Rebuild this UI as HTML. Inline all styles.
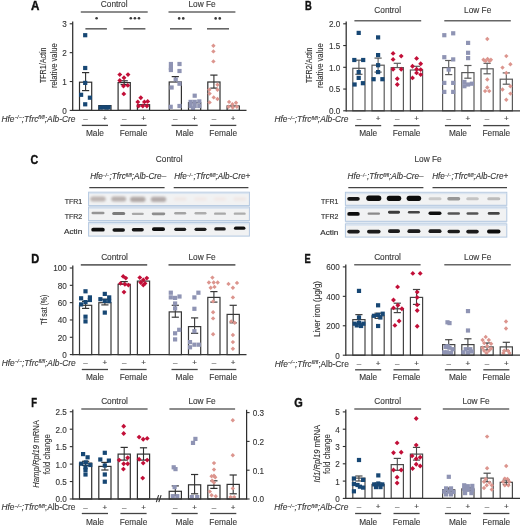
<!DOCTYPE html>
<html><head><meta charset="utf-8"><style>
html,body{margin:0;padding:0;background:#fff;width:520px;height:526px;overflow:hidden}
svg{display:block;font-family:"Liberation Sans", sans-serif;filter:blur(0.3px)}
text{stroke:#333;stroke-width:0.12px}
</style></head><body>
<svg width="520" height="526" viewBox="0 0 520 526">
<defs>
<filter id="b1" x="-50%" y="-100%" width="200%" height="300%"><feGaussianBlur stdDeviation="0.7"/></filter>
<filter id="b2" x="-50%" y="-100%" width="200%" height="300%"><feGaussianBlur stdDeviation="1.0"/></filter>
</defs>
<rect width="520" height="526" fill="#fff"/>
<text x="31.00" y="10.00" font-size="12.2" font-weight="bold" fill="#111" style="stroke:#111;stroke-width:0.4px" textLength="8.40" lengthAdjust="spacingAndGlyphs">A</text>
<line x1="72.70" y1="21.40" x2="72.70" y2="111.00" stroke="#2e2e2e" stroke-width="1.25"/>
<line x1="69.70" y1="110.40" x2="72.70" y2="110.40" stroke="#2e2e2e" stroke-width="1.1"/>
<text x="66.80" y="113.80" font-size="9.6" text-anchor="end" font-weight="normal" font-style="normal" fill="#333" textLength="4.54" lengthAdjust="spacingAndGlyphs">0</text>
<line x1="69.70" y1="81.53" x2="72.70" y2="81.53" stroke="#2e2e2e" stroke-width="1.1"/>
<text x="66.80" y="84.93" font-size="9.6" text-anchor="end" font-weight="normal" font-style="normal" fill="#333" textLength="4.54" lengthAdjust="spacingAndGlyphs">1</text>
<line x1="69.70" y1="52.66" x2="72.70" y2="52.66" stroke="#2e2e2e" stroke-width="1.1"/>
<text x="66.80" y="56.06" font-size="9.6" text-anchor="end" font-weight="normal" font-style="normal" fill="#333" textLength="4.54" lengthAdjust="spacingAndGlyphs">2</text>
<line x1="69.70" y1="23.79" x2="72.70" y2="23.79" stroke="#2e2e2e" stroke-width="1.1"/>
<text x="66.80" y="27.19" font-size="9.6" text-anchor="end" font-weight="normal" font-style="normal" fill="#333" textLength="4.54" lengthAdjust="spacingAndGlyphs">3</text>
<text transform="translate(45.50,65.30) rotate(-90)" x="0" y="0" font-size="8.8" text-anchor="middle" fill="#333" textLength="35.6" lengthAdjust="spacingAndGlyphs">TFR1/Actin</text>
<text transform="translate(56.90,65.70) rotate(-90)" x="0" y="0" font-size="8.8" text-anchor="middle" fill="#333" textLength="44.8" lengthAdjust="spacingAndGlyphs">relative value</text>
<line x1="80.80" y1="12.00" x2="147.70" y2="12.00" stroke="#666" stroke-width="1.6"/>
<text x="114.20" y="7.30" font-size="8.3" text-anchor="middle" font-weight="normal" font-style="normal" fill="#3a3a3a">Control</text>
<line x1="168.50" y1="12.00" x2="235.40" y2="12.00" stroke="#666" stroke-width="1.6"/>
<text x="202.10" y="7.30" font-size="8.3" text-anchor="middle" font-weight="normal" font-style="normal" fill="#3a3a3a">Low Fe</text>
<rect x="79.50" y="82.20" width="12.2" height="28.20" fill="white" stroke="#303030" stroke-width="1.2"/>
<line x1="85.60" y1="72.60" x2="85.60" y2="90.60" stroke="#303030" stroke-width="1.1"/>
<line x1="82.00" y1="72.60" x2="89.20" y2="72.60" stroke="#303030" stroke-width="1.2"/>
<line x1="82.00" y1="90.60" x2="89.20" y2="90.60" stroke="#303030" stroke-width="1.2"/>
<rect x="83.10" y="33.10" width="4.2" height="4.2" fill="#174774"/>
<rect x="83.10" y="65.90" width="4.2" height="4.2" fill="#174774"/>
<rect x="83.10" y="80.80" width="4.2" height="4.2" fill="#174774"/>
<rect x="79.00" y="92.70" width="4.2" height="4.2" fill="#174774"/>
<rect x="87.80" y="95.60" width="4.2" height="4.2" fill="#174774"/>
<rect x="83.10" y="102.20" width="4.2" height="4.2" fill="#174774"/>
<rect x="98.80" y="105.60" width="12.2" height="4.80" fill="white" stroke="#303030" stroke-width="1.2"/>
<rect x="98.50" y="105.50" width="4.2" height="4.2" fill="#174774"/>
<rect x="101.50" y="105.20" width="4.2" height="4.2" fill="#174774"/>
<rect x="104.50" y="105.50" width="4.2" height="4.2" fill="#174774"/>
<rect x="106.50" y="105.20" width="4.2" height="4.2" fill="#174774"/>
<rect x="118.10" y="82.60" width="12.2" height="27.80" fill="white" stroke="#303030" stroke-width="1.2"/>
<line x1="124.20" y1="80.80" x2="124.20" y2="84.60" stroke="#303030" stroke-width="1.1"/>
<line x1="120.60" y1="80.80" x2="127.80" y2="80.80" stroke="#303030" stroke-width="1.2"/>
<line x1="120.60" y1="84.60" x2="127.80" y2="84.60" stroke="#303030" stroke-width="1.2"/>
<path d="M119.80 72.15L122.25 74.60L119.80 77.05L117.35 74.60Z" fill="#c20f38"/>
<path d="M128.00 72.15L130.45 74.60L128.00 77.05L125.55 74.60Z" fill="#c20f38"/>
<path d="M124.00 75.25L126.45 77.70L124.00 80.15L121.55 77.70Z" fill="#c20f38"/>
<path d="M119.80 78.05L122.25 80.50L119.80 82.95L117.35 80.50Z" fill="#c20f38"/>
<path d="M123.50 83.55L125.95 86.00L123.50 88.45L121.05 86.00Z" fill="#c20f38"/>
<path d="M127.80 82.95L130.25 85.40L127.80 87.85L125.35 85.40Z" fill="#c20f38"/>
<path d="M123.80 91.45L126.25 93.90L123.80 96.35L121.35 93.90Z" fill="#c20f38"/>
<rect x="137.40" y="104.70" width="12.2" height="5.70" fill="white" stroke="#303030" stroke-width="1.2"/>
<path d="M140.80 95.25L143.25 97.70L140.80 100.15L138.35 97.70Z" fill="#c20f38"/>
<path d="M137.80 99.45L140.25 101.90L137.80 104.35L135.35 101.90Z" fill="#c20f38"/>
<path d="M144.40 99.45L146.85 101.90L144.40 104.35L141.95 101.90Z" fill="#c20f38"/>
<path d="M147.70 98.95L150.15 101.40L147.70 103.85L145.25 101.40Z" fill="#c20f38"/>
<path d="M138.60 103.55L141.05 106.00L138.60 108.45L136.15 106.00Z" fill="#c20f38"/>
<path d="M142.80 103.55L145.25 106.00L142.80 108.45L140.35 106.00Z" fill="#c20f38"/>
<path d="M146.90 103.55L149.35 106.00L146.90 108.45L144.45 106.00Z" fill="#c20f38"/>
<rect x="169.20" y="82.00" width="12.2" height="28.40" fill="white" stroke="#303030" stroke-width="1.2"/>
<line x1="175.30" y1="76.60" x2="175.30" y2="82.00" stroke="#303030" stroke-width="1.1"/>
<line x1="171.70" y1="76.60" x2="178.90" y2="76.60" stroke="#303030" stroke-width="1.2"/>
<rect x="168.80" y="61.90" width="4.2" height="4.2" fill="#8f94b4"/>
<rect x="168.80" y="65.90" width="4.2" height="4.2" fill="#8f94b4"/>
<rect x="168.80" y="67.90" width="4.2" height="4.2" fill="#8f94b4"/>
<rect x="177.40" y="61.90" width="4.2" height="4.2" fill="#8f94b4"/>
<rect x="177.40" y="68.90" width="4.2" height="4.2" fill="#8f94b4"/>
<rect x="173.60" y="77.40" width="4.2" height="4.2" fill="#8f94b4"/>
<rect x="169.50" y="85.40" width="4.2" height="4.2" fill="#8f94b4"/>
<rect x="177.40" y="81.60" width="4.2" height="4.2" fill="#8f94b4"/>
<rect x="168.60" y="104.70" width="4.2" height="4.2" fill="#8f94b4"/>
<rect x="177.40" y="103.90" width="4.2" height="4.2" fill="#8f94b4"/>
<rect x="188.50" y="102.70" width="12.2" height="7.70" fill="white" stroke="#303030" stroke-width="1.2"/>
<rect x="192.60" y="93.60" width="4.2" height="4.2" fill="#8f94b4"/>
<rect x="188.50" y="99.80" width="4.2" height="4.2" fill="#8f94b4"/>
<rect x="192.60" y="99.80" width="4.2" height="4.2" fill="#8f94b4"/>
<rect x="197.20" y="99.30" width="4.2" height="4.2" fill="#8f94b4"/>
<rect x="188.50" y="103.90" width="4.2" height="4.2" fill="#8f94b4"/>
<rect x="192.60" y="103.90" width="4.2" height="4.2" fill="#8f94b4"/>
<rect x="197.20" y="103.90" width="4.2" height="4.2" fill="#8f94b4"/>
<rect x="190.90" y="106.20" width="4.2" height="4.2" fill="#8f94b4"/>
<rect x="207.80" y="82.00" width="12.2" height="28.40" fill="white" stroke="#303030" stroke-width="1.2"/>
<line x1="213.90" y1="75.10" x2="213.90" y2="88.10" stroke="#303030" stroke-width="1.1"/>
<line x1="210.30" y1="75.10" x2="217.50" y2="75.10" stroke="#303030" stroke-width="1.2"/>
<line x1="210.30" y1="88.10" x2="217.50" y2="88.10" stroke="#303030" stroke-width="1.2"/>
<path d="M213.40 43.50L215.60 45.70L213.40 47.90L211.20 45.70Z" fill="#dc958e"/>
<path d="M213.40 49.20L215.60 51.40L213.40 53.60L211.20 51.40Z" fill="#dc958e"/>
<path d="M213.40 59.20L215.60 61.40L213.40 63.60L211.20 61.40Z" fill="#dc958e"/>
<path d="M217.50 82.60L219.70 84.80L217.50 87.00L215.30 84.80Z" fill="#dc958e"/>
<path d="M209.30 87.60L211.50 89.80L209.30 92.00L207.10 89.80Z" fill="#dc958e"/>
<path d="M217.50 87.60L219.70 89.80L217.50 92.00L215.30 89.80Z" fill="#dc958e"/>
<path d="M209.60 91.40L211.80 93.60L209.60 95.80L207.40 93.60Z" fill="#dc958e"/>
<path d="M213.70 95.20L215.90 97.40L213.70 99.60L211.50 97.40Z" fill="#dc958e"/>
<path d="M217.50 96.80L219.70 99.00L217.50 101.20L215.30 99.00Z" fill="#dc958e"/>
<path d="M209.60 100.20L211.80 102.40L209.60 104.60L207.40 102.40Z" fill="#dc958e"/>
<rect x="227.10" y="106.00" width="12.2" height="4.40" fill="white" stroke="#303030" stroke-width="1.2"/>
<path d="M229.10 99.70L231.30 101.90L229.10 104.10L226.90 101.90Z" fill="#dc958e"/>
<path d="M236.00 100.50L238.20 102.70L236.00 104.90L233.80 102.70Z" fill="#dc958e"/>
<path d="M232.40 102.10L234.60 104.30L232.40 106.50L230.20 104.30Z" fill="#dc958e"/>
<path d="M228.60 104.60L230.80 106.80L228.60 109.00L226.40 106.80Z" fill="#dc958e"/>
<path d="M232.70 105.40L234.90 107.60L232.70 109.80L230.50 107.60Z" fill="#dc958e"/>
<path d="M236.90 104.60L239.10 106.80L236.90 109.00L234.70 106.80Z" fill="#dc958e"/>
<line x1="72.70" y1="110.40" x2="246.50" y2="110.40" stroke="#333" stroke-width="1.3"/>
<text x="75.40" y="121.80" font-size="8.3" font-style="italic" text-anchor="end" fill="#3a3a3a" textLength="74" lengthAdjust="spacingAndGlyphs">Hfe<tspan font-size="4.98" dy="-2.4">−/−</tspan><tspan dy="2.4">;Tfrc</tspan><tspan font-size="4.98" dy="-2.4">fl/fl</tspan><tspan dy="2.4">;Alb-Cre</tspan></text>
<text x="85.60" y="120.90" font-size="8" text-anchor="middle" font-weight="normal" font-style="normal" fill="#444">–</text>
<text x="104.90" y="120.90" font-size="8" text-anchor="middle" font-weight="normal" font-style="normal" fill="#444">+</text>
<text x="124.20" y="120.90" font-size="8" text-anchor="middle" font-weight="normal" font-style="normal" fill="#444">–</text>
<text x="143.50" y="120.90" font-size="8" text-anchor="middle" font-weight="normal" font-style="normal" fill="#444">+</text>
<text x="175.30" y="120.90" font-size="8" text-anchor="middle" font-weight="normal" font-style="normal" fill="#444">–</text>
<text x="194.60" y="120.90" font-size="8" text-anchor="middle" font-weight="normal" font-style="normal" fill="#444">+</text>
<text x="213.90" y="120.90" font-size="8" text-anchor="middle" font-weight="normal" font-style="normal" fill="#444">–</text>
<text x="233.20" y="120.90" font-size="8" text-anchor="middle" font-weight="normal" font-style="normal" fill="#444">+</text>
<line x1="81.80" y1="125.40" x2="108.00" y2="125.40" stroke="#444" stroke-width="1.3"/>
<text x="94.90" y="135.90" font-size="8.3" text-anchor="middle" font-weight="normal" font-style="normal" fill="#3a3a3a">Male</text>
<line x1="120.40" y1="125.40" x2="146.60" y2="125.40" stroke="#444" stroke-width="1.3"/>
<text x="133.50" y="135.90" font-size="8.3" text-anchor="middle" font-weight="normal" font-style="normal" fill="#3a3a3a">Female</text>
<line x1="171.50" y1="125.40" x2="197.70" y2="125.40" stroke="#444" stroke-width="1.3"/>
<text x="184.60" y="135.90" font-size="8.3" text-anchor="middle" font-weight="normal" font-style="normal" fill="#3a3a3a">Male</text>
<line x1="210.10" y1="125.40" x2="236.30" y2="125.40" stroke="#444" stroke-width="1.3"/>
<text x="223.20" y="135.90" font-size="8.3" text-anchor="middle" font-weight="normal" font-style="normal" fill="#3a3a3a">Female</text>
<circle cx="96.60" cy="18.30" r="1.3" fill="#3a3a3a"/>
<circle cx="130.80" cy="18.20" r="1.3" fill="#3a3a3a"/>
<circle cx="134.90" cy="18.20" r="1.3" fill="#3a3a3a"/>
<circle cx="139.00" cy="18.20" r="1.3" fill="#3a3a3a"/>
<circle cx="179.15" cy="18.40" r="1.3" fill="#3a3a3a"/>
<circle cx="183.25" cy="18.40" r="1.3" fill="#3a3a3a"/>
<circle cx="215.65" cy="18.40" r="1.3" fill="#3a3a3a"/>
<circle cx="219.75" cy="18.40" r="1.3" fill="#3a3a3a"/>
<line x1="85.40" y1="28.80" x2="106.90" y2="28.80" stroke="#666" stroke-width="1.6"/>
<line x1="123.40" y1="28.80" x2="145.40" y2="28.80" stroke="#666" stroke-width="1.6"/>
<line x1="170.00" y1="28.80" x2="191.80" y2="28.80" stroke="#666" stroke-width="1.6"/>
<line x1="207.00" y1="28.80" x2="229.00" y2="28.80" stroke="#666" stroke-width="1.6"/>
<text x="305.00" y="10.10" font-size="12.2" font-weight="bold" fill="#111" style="stroke:#111;stroke-width:0.4px" textLength="6.80" lengthAdjust="spacingAndGlyphs">B</text>
<line x1="346.20" y1="21.40" x2="346.20" y2="111.40" stroke="#2e2e2e" stroke-width="1.25"/>
<line x1="343.20" y1="110.80" x2="346.20" y2="110.80" stroke="#2e2e2e" stroke-width="1.1"/>
<text x="340.30" y="114.20" font-size="9.6" text-anchor="end" font-weight="normal" font-style="normal" fill="#333" textLength="11.34" lengthAdjust="spacingAndGlyphs">0.0</text>
<line x1="343.20" y1="89.05" x2="346.20" y2="89.05" stroke="#2e2e2e" stroke-width="1.1"/>
<text x="340.30" y="92.45" font-size="9.6" text-anchor="end" font-weight="normal" font-style="normal" fill="#333" textLength="11.34" lengthAdjust="spacingAndGlyphs">0.5</text>
<line x1="343.20" y1="67.30" x2="346.20" y2="67.30" stroke="#2e2e2e" stroke-width="1.1"/>
<text x="340.30" y="70.70" font-size="9.6" text-anchor="end" font-weight="normal" font-style="normal" fill="#333" textLength="11.34" lengthAdjust="spacingAndGlyphs">1.0</text>
<line x1="343.20" y1="45.55" x2="346.20" y2="45.55" stroke="#2e2e2e" stroke-width="1.1"/>
<text x="340.30" y="48.95" font-size="9.6" text-anchor="end" font-weight="normal" font-style="normal" fill="#333" textLength="11.34" lengthAdjust="spacingAndGlyphs">1.5</text>
<line x1="343.20" y1="23.80" x2="346.20" y2="23.80" stroke="#2e2e2e" stroke-width="1.1"/>
<text x="340.30" y="27.20" font-size="9.6" text-anchor="end" font-weight="normal" font-style="normal" fill="#333" textLength="11.34" lengthAdjust="spacingAndGlyphs">2.0</text>
<text transform="translate(312.30,65.30) rotate(-90)" x="0" y="0" font-size="8.8" text-anchor="middle" fill="#333" textLength="35.6" lengthAdjust="spacingAndGlyphs">TFR2/Actin</text>
<text transform="translate(323.40,65.70) rotate(-90)" x="0" y="0" font-size="8.8" text-anchor="middle" fill="#333" textLength="44.8" lengthAdjust="spacingAndGlyphs">relative value</text>
<line x1="354.40" y1="20.70" x2="421.20" y2="20.70" stroke="#666" stroke-width="1.6"/>
<text x="387.70" y="13.00" font-size="8.3" text-anchor="middle" font-weight="normal" font-style="normal" fill="#3a3a3a">Control</text>
<line x1="444.30" y1="20.70" x2="510.80" y2="20.70" stroke="#666" stroke-width="1.6"/>
<text x="477.70" y="13.00" font-size="8.3" text-anchor="middle" font-weight="normal" font-style="normal" fill="#3a3a3a">Low Fe</text>
<rect x="352.80" y="68.30" width="12.2" height="42.50" fill="white" stroke="#5a5a5a" stroke-width="1.2"/>
<line x1="358.90" y1="60.20" x2="358.90" y2="74.30" stroke="#5a5a5a" stroke-width="1.1"/>
<line x1="355.30" y1="60.20" x2="362.50" y2="60.20" stroke="#5a5a5a" stroke-width="1.2"/>
<line x1="355.30" y1="74.30" x2="362.50" y2="74.30" stroke="#5a5a5a" stroke-width="1.2"/>
<rect x="356.60" y="30.80" width="4.2" height="4.2" fill="#174774"/>
<rect x="352.20" y="57.90" width="4.2" height="4.2" fill="#174774"/>
<rect x="361.10" y="57.90" width="4.2" height="4.2" fill="#174774"/>
<rect x="356.60" y="70.00" width="4.2" height="4.2" fill="#174774"/>
<rect x="356.60" y="75.80" width="4.2" height="4.2" fill="#174774"/>
<rect x="352.50" y="82.40" width="4.2" height="4.2" fill="#174774"/>
<rect x="360.80" y="81.10" width="4.2" height="4.2" fill="#174774"/>
<rect x="372.00" y="65.20" width="12.2" height="45.60" fill="white" stroke="#5a5a5a" stroke-width="1.2"/>
<line x1="378.10" y1="58.10" x2="378.10" y2="72.10" stroke="#5a5a5a" stroke-width="1.1"/>
<line x1="374.50" y1="58.10" x2="381.70" y2="58.10" stroke="#5a5a5a" stroke-width="1.2"/>
<line x1="374.50" y1="72.10" x2="381.70" y2="72.10" stroke="#5a5a5a" stroke-width="1.2"/>
<rect x="376.00" y="35.30" width="4.2" height="4.2" fill="#174774"/>
<rect x="376.00" y="53.00" width="4.2" height="4.2" fill="#174774"/>
<rect x="376.00" y="63.10" width="4.2" height="4.2" fill="#174774"/>
<rect x="376.00" y="70.00" width="4.2" height="4.2" fill="#174774"/>
<rect x="371.50" y="77.10" width="4.2" height="4.2" fill="#174774"/>
<rect x="380.30" y="77.10" width="4.2" height="4.2" fill="#174774"/>
<rect x="391.20" y="67.60" width="12.2" height="43.20" fill="white" stroke="#5a5a5a" stroke-width="1.2"/>
<line x1="397.30" y1="63.30" x2="397.30" y2="67.60" stroke="#5a5a5a" stroke-width="1.1"/>
<line x1="393.70" y1="63.30" x2="400.90" y2="63.30" stroke="#5a5a5a" stroke-width="1.2"/>
<path d="M393.10 50.95L395.55 53.40L393.10 55.85L390.65 53.40Z" fill="#c20f38"/>
<path d="M401.20 53.65L403.65 56.10L401.20 58.55L398.75 56.10Z" fill="#c20f38"/>
<path d="M393.10 56.95L395.55 59.40L393.10 61.85L390.65 59.40Z" fill="#c20f38"/>
<path d="M393.10 66.85L395.55 69.30L393.10 71.75L390.65 69.30Z" fill="#c20f38"/>
<path d="M401.20 66.85L403.65 69.30L401.20 71.75L398.75 69.30Z" fill="#c20f38"/>
<path d="M397.30 76.25L399.75 78.70L397.30 81.15L394.85 78.70Z" fill="#c20f38"/>
<path d="M397.30 82.05L399.75 84.50L397.30 86.95L394.85 84.50Z" fill="#c20f38"/>
<rect x="410.40" y="70.00" width="12.2" height="40.80" fill="white" stroke="#5a5a5a" stroke-width="1.2"/>
<line x1="416.50" y1="66.30" x2="416.50" y2="70.00" stroke="#5a5a5a" stroke-width="1.1"/>
<line x1="412.90" y1="66.30" x2="420.10" y2="66.30" stroke="#5a5a5a" stroke-width="1.2"/>
<path d="M416.60 55.95L419.05 58.40L416.60 60.85L414.15 58.40Z" fill="#c20f38"/>
<path d="M420.70 61.35L423.15 63.80L420.70 66.25L418.25 63.80Z" fill="#c20f38"/>
<path d="M412.50 63.85L414.95 66.30L412.50 68.75L410.05 66.30Z" fill="#c20f38"/>
<path d="M416.60 66.85L419.05 69.30L416.60 71.75L414.15 69.30Z" fill="#c20f38"/>
<path d="M420.70 67.15L423.15 69.60L420.70 72.05L418.25 69.60Z" fill="#c20f38"/>
<path d="M416.60 70.45L419.05 72.90L416.60 75.35L414.15 72.90Z" fill="#c20f38"/>
<path d="M420.70 72.15L423.15 74.60L420.70 77.05L418.25 74.60Z" fill="#c20f38"/>
<path d="M412.50 75.45L414.95 77.90L412.50 80.35L410.05 77.90Z" fill="#c20f38"/>
<rect x="442.60" y="67.60" width="12.2" height="43.20" fill="white" stroke="#5a5a5a" stroke-width="1.2"/>
<line x1="448.70" y1="60.50" x2="448.70" y2="74.60" stroke="#5a5a5a" stroke-width="1.1"/>
<line x1="445.10" y1="60.50" x2="452.30" y2="60.50" stroke="#5a5a5a" stroke-width="1.2"/>
<line x1="445.10" y1="74.60" x2="452.30" y2="74.60" stroke="#5a5a5a" stroke-width="1.2"/>
<rect x="442.20" y="33.10" width="4.2" height="4.2" fill="#8f94b4"/>
<rect x="451.10" y="31.20" width="4.2" height="4.2" fill="#8f94b4"/>
<rect x="442.20" y="55.10" width="4.2" height="4.2" fill="#8f94b4"/>
<rect x="451.10" y="57.30" width="4.2" height="4.2" fill="#8f94b4"/>
<rect x="446.60" y="67.50" width="4.2" height="4.2" fill="#8f94b4"/>
<rect x="442.20" y="80.80" width="4.2" height="4.2" fill="#8f94b4"/>
<rect x="451.10" y="80.80" width="4.2" height="4.2" fill="#8f94b4"/>
<rect x="442.20" y="89.80" width="4.2" height="4.2" fill="#8f94b4"/>
<rect x="451.10" y="89.80" width="4.2" height="4.2" fill="#8f94b4"/>
<rect x="461.80" y="72.60" width="12.2" height="38.20" fill="white" stroke="#5a5a5a" stroke-width="1.2"/>
<line x1="467.90" y1="65.50" x2="467.90" y2="78.20" stroke="#5a5a5a" stroke-width="1.1"/>
<line x1="464.30" y1="65.50" x2="471.50" y2="65.50" stroke="#5a5a5a" stroke-width="1.2"/>
<line x1="464.30" y1="78.20" x2="471.50" y2="78.20" stroke="#5a5a5a" stroke-width="1.2"/>
<rect x="466.00" y="40.80" width="4.2" height="4.2" fill="#8f94b4"/>
<rect x="466.00" y="50.70" width="4.2" height="4.2" fill="#8f94b4"/>
<rect x="466.00" y="56.00" width="4.2" height="4.2" fill="#8f94b4"/>
<rect x="462.30" y="79.90" width="4.2" height="4.2" fill="#8f94b4"/>
<rect x="466.00" y="82.40" width="4.2" height="4.2" fill="#8f94b4"/>
<rect x="469.80" y="81.60" width="4.2" height="4.2" fill="#8f94b4"/>
<rect x="462.30" y="84.10" width="4.2" height="4.2" fill="#8f94b4"/>
<rect x="481.00" y="68.80" width="12.2" height="42.00" fill="white" stroke="#5a5a5a" stroke-width="1.2"/>
<line x1="487.10" y1="63.30" x2="487.10" y2="73.80" stroke="#5a5a5a" stroke-width="1.1"/>
<line x1="483.50" y1="63.30" x2="490.70" y2="63.30" stroke="#5a5a5a" stroke-width="1.2"/>
<line x1="483.50" y1="73.80" x2="490.70" y2="73.80" stroke="#5a5a5a" stroke-width="1.2"/>
<path d="M487.30 36.80L489.50 39.00L487.30 41.20L485.10 39.00Z" fill="#dc958e"/>
<path d="M483.50 57.50L485.70 59.70L483.50 61.90L481.30 59.70Z" fill="#dc958e"/>
<path d="M487.60 56.70L489.80 58.90L487.60 61.10L485.40 58.90Z" fill="#dc958e"/>
<path d="M490.90 57.50L493.10 59.70L490.90 61.90L488.70 59.70Z" fill="#dc958e"/>
<path d="M485.50 58.80L487.70 61.00L485.50 63.20L483.30 61.00Z" fill="#dc958e"/>
<path d="M489.50 58.80L491.70 61.00L489.50 63.20L487.30 61.00Z" fill="#dc958e"/>
<path d="M487.30 77.30L489.50 79.50L487.30 81.70L485.10 79.50Z" fill="#dc958e"/>
<path d="M487.30 85.30L489.50 87.50L487.30 89.70L485.10 87.50Z" fill="#dc958e"/>
<path d="M485.10 88.90L487.30 91.10L485.10 93.30L482.90 91.10Z" fill="#dc958e"/>
<path d="M489.20 88.90L491.40 91.10L489.20 93.30L487.00 91.10Z" fill="#dc958e"/>
<rect x="500.20" y="79.20" width="12.2" height="31.60" fill="white" stroke="#5a5a5a" stroke-width="1.2"/>
<line x1="506.30" y1="72.90" x2="506.30" y2="84.20" stroke="#5a5a5a" stroke-width="1.1"/>
<line x1="502.70" y1="72.90" x2="509.90" y2="72.90" stroke="#5a5a5a" stroke-width="1.2"/>
<line x1="502.70" y1="84.20" x2="509.90" y2="84.20" stroke="#5a5a5a" stroke-width="1.2"/>
<path d="M506.30 53.90L508.50 56.10L506.30 58.30L504.10 56.10Z" fill="#dc958e"/>
<path d="M510.40 62.10L512.60 64.30L510.40 66.50L508.20 64.30Z" fill="#dc958e"/>
<path d="M502.50 65.40L504.70 67.60L502.50 69.80L500.30 67.60Z" fill="#dc958e"/>
<path d="M506.30 70.70L508.50 72.90L506.30 75.10L504.10 72.90Z" fill="#dc958e"/>
<path d="M510.40 84.00L512.60 86.20L510.40 88.40L508.20 86.20Z" fill="#dc958e"/>
<path d="M502.50 87.30L504.70 89.50L502.50 91.70L500.30 89.50Z" fill="#dc958e"/>
<path d="M510.40 91.40L512.60 93.60L510.40 95.80L508.20 93.60Z" fill="#dc958e"/>
<path d="M506.30 97.50L508.50 99.70L506.30 101.90L504.10 99.70Z" fill="#dc958e"/>
<line x1="346.20" y1="110.80" x2="520.00" y2="110.80" stroke="#333" stroke-width="1.3"/>
<text x="348.50" y="122.30" font-size="8.3" font-style="italic" text-anchor="end" fill="#3a3a3a" textLength="74" lengthAdjust="spacingAndGlyphs">Hfe<tspan font-size="4.98" dy="-2.4">−/−</tspan><tspan dy="2.4">;Tfrc</tspan><tspan font-size="4.98" dy="-2.4">fl/fl</tspan><tspan dy="2.4">;Alb-Cre</tspan></text>
<text x="358.90" y="121.40" font-size="8" text-anchor="middle" font-weight="normal" font-style="normal" fill="#444">–</text>
<text x="378.10" y="121.40" font-size="8" text-anchor="middle" font-weight="normal" font-style="normal" fill="#444">+</text>
<text x="397.30" y="121.40" font-size="8" text-anchor="middle" font-weight="normal" font-style="normal" fill="#444">–</text>
<text x="416.50" y="121.40" font-size="8" text-anchor="middle" font-weight="normal" font-style="normal" fill="#444">+</text>
<text x="448.70" y="121.40" font-size="8" text-anchor="middle" font-weight="normal" font-style="normal" fill="#444">–</text>
<text x="467.90" y="121.40" font-size="8" text-anchor="middle" font-weight="normal" font-style="normal" fill="#444">+</text>
<text x="487.10" y="121.40" font-size="8" text-anchor="middle" font-weight="normal" font-style="normal" fill="#444">–</text>
<text x="506.30" y="121.40" font-size="8" text-anchor="middle" font-weight="normal" font-style="normal" fill="#444">+</text>
<line x1="355.10" y1="125.60" x2="381.20" y2="125.60" stroke="#444" stroke-width="1.3"/>
<text x="368.15" y="135.90" font-size="8.3" text-anchor="middle" font-weight="normal" font-style="normal" fill="#3a3a3a">Male</text>
<line x1="393.50" y1="125.60" x2="419.60" y2="125.60" stroke="#444" stroke-width="1.3"/>
<text x="406.55" y="135.90" font-size="8.3" text-anchor="middle" font-weight="normal" font-style="normal" fill="#3a3a3a">Female</text>
<line x1="444.90" y1="125.60" x2="471.00" y2="125.60" stroke="#444" stroke-width="1.3"/>
<text x="457.95" y="135.90" font-size="8.3" text-anchor="middle" font-weight="normal" font-style="normal" fill="#3a3a3a">Male</text>
<line x1="483.30" y1="125.60" x2="509.40" y2="125.60" stroke="#444" stroke-width="1.3"/>
<text x="496.35" y="135.90" font-size="8.3" text-anchor="middle" font-weight="normal" font-style="normal" fill="#3a3a3a">Female</text>
<text x="31.20" y="262.80" font-size="12.2" font-weight="bold" fill="#111" style="stroke:#111;stroke-width:0.4px" textLength="8.00" lengthAdjust="spacingAndGlyphs">D</text>
<line x1="72.80" y1="265.60" x2="72.80" y2="355.20" stroke="#2e2e2e" stroke-width="1.25"/>
<line x1="69.80" y1="354.60" x2="72.80" y2="354.60" stroke="#2e2e2e" stroke-width="1.1"/>
<text x="66.90" y="358.00" font-size="9.6" text-anchor="end" font-weight="normal" font-style="normal" fill="#333" textLength="4.54" lengthAdjust="spacingAndGlyphs">0</text>
<line x1="69.80" y1="337.28" x2="72.80" y2="337.28" stroke="#2e2e2e" stroke-width="1.1"/>
<text x="66.90" y="340.68" font-size="9.6" text-anchor="end" font-weight="normal" font-style="normal" fill="#333" textLength="9.08" lengthAdjust="spacingAndGlyphs">20</text>
<line x1="69.80" y1="319.96" x2="72.80" y2="319.96" stroke="#2e2e2e" stroke-width="1.1"/>
<text x="66.90" y="323.36" font-size="9.6" text-anchor="end" font-weight="normal" font-style="normal" fill="#333" textLength="9.08" lengthAdjust="spacingAndGlyphs">40</text>
<line x1="69.80" y1="302.64" x2="72.80" y2="302.64" stroke="#2e2e2e" stroke-width="1.1"/>
<text x="66.90" y="306.04" font-size="9.6" text-anchor="end" font-weight="normal" font-style="normal" fill="#333" textLength="9.08" lengthAdjust="spacingAndGlyphs">60</text>
<line x1="69.80" y1="285.32" x2="72.80" y2="285.32" stroke="#2e2e2e" stroke-width="1.1"/>
<text x="66.90" y="288.72" font-size="9.6" text-anchor="end" font-weight="normal" font-style="normal" fill="#333" textLength="9.08" lengthAdjust="spacingAndGlyphs">80</text>
<line x1="69.80" y1="268.00" x2="72.80" y2="268.00" stroke="#2e2e2e" stroke-width="1.1"/>
<text x="66.90" y="271.40" font-size="9.6" text-anchor="end" font-weight="normal" font-style="normal" fill="#333" textLength="13.61" lengthAdjust="spacingAndGlyphs">100</text>
<text transform="translate(46.60,309.70) rotate(-90)" x="0" y="0" font-size="8.8" text-anchor="middle" fill="#333" textLength="30.1" lengthAdjust="spacingAndGlyphs">Tf sat (%)</text>
<line x1="80.80" y1="264.90" x2="147.20" y2="264.90" stroke="#666" stroke-width="1.6"/>
<text x="114.50" y="259.60" font-size="8.3" text-anchor="middle" font-weight="normal" font-style="normal" fill="#3a3a3a">Control</text>
<line x1="168.50" y1="264.90" x2="235.40" y2="264.90" stroke="#666" stroke-width="1.6"/>
<text x="202.10" y="259.60" font-size="8.3" text-anchor="middle" font-weight="normal" font-style="normal" fill="#3a3a3a">Low Fe</text>
<rect x="79.50" y="305.30" width="12.2" height="49.30" fill="white" stroke="#383838" stroke-width="1.2"/>
<line x1="85.60" y1="301.40" x2="85.60" y2="308.40" stroke="#383838" stroke-width="1.1"/>
<line x1="82.00" y1="301.40" x2="89.20" y2="301.40" stroke="#383838" stroke-width="1.2"/>
<line x1="82.00" y1="308.40" x2="89.20" y2="308.40" stroke="#383838" stroke-width="1.2"/>
<rect x="83.40" y="289.20" width="4.2" height="4.2" fill="#174774"/>
<rect x="79.00" y="296.20" width="4.2" height="4.2" fill="#174774"/>
<rect x="87.80" y="295.30" width="4.2" height="4.2" fill="#174774"/>
<rect x="83.40" y="300.00" width="4.2" height="4.2" fill="#174774"/>
<rect x="79.00" y="302.30" width="4.2" height="4.2" fill="#174774"/>
<rect x="87.80" y="297.90" width="4.2" height="4.2" fill="#174774"/>
<rect x="83.40" y="314.60" width="4.2" height="4.2" fill="#174774"/>
<rect x="83.40" y="319.30" width="4.2" height="4.2" fill="#174774"/>
<rect x="98.80" y="302.70" width="12.2" height="51.90" fill="white" stroke="#383838" stroke-width="1.2"/>
<line x1="104.90" y1="299.20" x2="104.90" y2="304.90" stroke="#383838" stroke-width="1.1"/>
<line x1="101.30" y1="299.20" x2="108.50" y2="299.20" stroke="#383838" stroke-width="1.2"/>
<line x1="101.30" y1="304.90" x2="108.50" y2="304.90" stroke="#383838" stroke-width="1.2"/>
<rect x="102.70" y="291.80" width="4.2" height="4.2" fill="#174774"/>
<rect x="98.30" y="297.10" width="4.2" height="4.2" fill="#174774"/>
<rect x="107.10" y="295.30" width="4.2" height="4.2" fill="#174774"/>
<rect x="102.70" y="298.80" width="4.2" height="4.2" fill="#174774"/>
<rect x="107.10" y="298.90" width="4.2" height="4.2" fill="#174774"/>
<rect x="102.70" y="310.50" width="4.2" height="4.2" fill="#174774"/>
<rect x="118.10" y="284.30" width="12.2" height="70.30" fill="white" stroke="#383838" stroke-width="1.2"/>
<line x1="124.20" y1="281.60" x2="124.20" y2="284.30" stroke="#383838" stroke-width="1.1"/>
<line x1="120.60" y1="281.60" x2="127.80" y2="281.60" stroke="#383838" stroke-width="1.2"/>
<path d="M123.20 273.95L125.65 276.40L123.20 278.85L120.75 276.40Z" fill="#c20f38"/>
<path d="M125.80 275.65L128.25 278.10L125.80 280.55L123.35 278.10Z" fill="#c20f38"/>
<path d="M120.50 280.95L122.95 283.40L120.50 285.85L118.05 283.40Z" fill="#c20f38"/>
<path d="M124.90 281.85L127.35 284.30L124.90 286.75L122.45 284.30Z" fill="#c20f38"/>
<path d="M128.40 282.65L130.85 285.10L128.40 287.55L125.95 285.10Z" fill="#c20f38"/>
<path d="M124.00 289.65L126.45 292.10L124.00 294.55L121.55 292.10Z" fill="#c20f38"/>
<rect x="137.40" y="281.10" width="12.2" height="73.50" fill="white" stroke="#383838" stroke-width="1.2"/>
<path d="M139.80 275.15L142.25 277.60L139.80 280.05L137.35 277.60Z" fill="#c20f38"/>
<path d="M146.80 275.65L149.25 278.10L146.80 280.55L144.35 278.10Z" fill="#c20f38"/>
<path d="M143.30 277.45L145.75 279.90L143.30 282.35L140.85 279.90Z" fill="#c20f38"/>
<path d="M140.70 280.05L143.15 282.50L140.70 284.95L138.25 282.50Z" fill="#c20f38"/>
<path d="M145.00 280.95L147.45 283.40L145.00 285.85L142.55 283.40Z" fill="#c20f38"/>
<path d="M143.30 282.65L145.75 285.10L143.30 287.55L140.85 285.10Z" fill="#c20f38"/>
<rect x="169.20" y="311.90" width="12.2" height="42.70" fill="white" stroke="#383838" stroke-width="1.2"/>
<line x1="175.30" y1="305.30" x2="175.30" y2="317.20" stroke="#383838" stroke-width="1.1"/>
<line x1="171.70" y1="305.30" x2="178.90" y2="305.30" stroke="#383838" stroke-width="1.2"/>
<line x1="171.70" y1="317.20" x2="178.90" y2="317.20" stroke="#383838" stroke-width="1.2"/>
<rect x="168.70" y="290.60" width="4.2" height="4.2" fill="#8f94b4"/>
<rect x="168.70" y="295.30" width="4.2" height="4.2" fill="#8f94b4"/>
<rect x="173.00" y="295.80" width="4.2" height="4.2" fill="#8f94b4"/>
<rect x="177.40" y="294.40" width="4.2" height="4.2" fill="#8f94b4"/>
<rect x="173.00" y="301.40" width="4.2" height="4.2" fill="#8f94b4"/>
<rect x="173.00" y="306.30" width="4.2" height="4.2" fill="#8f94b4"/>
<rect x="177.10" y="327.70" width="4.2" height="4.2" fill="#8f94b4"/>
<rect x="173.00" y="331.20" width="4.2" height="4.2" fill="#8f94b4"/>
<rect x="173.00" y="337.30" width="4.2" height="4.2" fill="#8f94b4"/>
<rect x="188.50" y="326.60" width="12.2" height="28.00" fill="white" stroke="#383838" stroke-width="1.2"/>
<line x1="194.60" y1="317.90" x2="194.60" y2="333.30" stroke="#383838" stroke-width="1.1"/>
<line x1="191.00" y1="317.90" x2="198.20" y2="317.90" stroke="#383838" stroke-width="1.2"/>
<line x1="191.00" y1="333.30" x2="198.20" y2="333.30" stroke="#383838" stroke-width="1.2"/>
<rect x="196.30" y="290.60" width="4.2" height="4.2" fill="#8f94b4"/>
<rect x="192.30" y="295.30" width="4.2" height="4.2" fill="#8f94b4"/>
<rect x="192.30" y="306.70" width="4.2" height="4.2" fill="#8f94b4"/>
<rect x="192.30" y="329.10" width="4.2" height="4.2" fill="#8f94b4"/>
<rect x="187.90" y="340.00" width="4.2" height="4.2" fill="#8f94b4"/>
<rect x="192.30" y="342.60" width="4.2" height="4.2" fill="#8f94b4"/>
<rect x="196.70" y="342.60" width="4.2" height="4.2" fill="#8f94b4"/>
<rect x="187.90" y="345.20" width="4.2" height="4.2" fill="#8f94b4"/>
<rect x="207.80" y="297.40" width="12.2" height="57.20" fill="white" stroke="#383838" stroke-width="1.2"/>
<line x1="213.90" y1="291.60" x2="213.90" y2="302.10" stroke="#383838" stroke-width="1.1"/>
<line x1="210.30" y1="291.60" x2="217.50" y2="291.60" stroke="#383838" stroke-width="1.2"/>
<line x1="210.30" y1="302.10" x2="217.50" y2="302.10" stroke="#383838" stroke-width="1.2"/>
<path d="M212.40 275.40L214.60 277.60L212.40 279.80L210.20 277.60Z" fill="#dc958e"/>
<path d="M208.90 280.30L211.10 282.50L208.90 284.70L206.70 282.50Z" fill="#dc958e"/>
<path d="M213.70 280.30L215.90 282.50L213.70 284.70L211.50 282.50Z" fill="#dc958e"/>
<path d="M217.70 280.30L219.90 282.50L217.70 284.70L215.50 282.50Z" fill="#dc958e"/>
<path d="M214.50 284.70L216.70 286.90L214.50 289.10L212.30 286.90Z" fill="#dc958e"/>
<path d="M210.70 285.60L212.90 287.80L210.70 290.00L208.50 287.80Z" fill="#dc958e"/>
<path d="M213.10 299.20L215.30 301.40L213.10 303.60L210.90 301.40Z" fill="#dc958e"/>
<path d="M213.10 310.10L215.30 312.30L213.10 314.50L210.90 312.30Z" fill="#dc958e"/>
<path d="M213.10 316.20L215.30 318.40L213.10 320.60L210.90 318.40Z" fill="#dc958e"/>
<path d="M213.10 332.00L215.30 334.20L213.10 336.40L210.90 334.20Z" fill="#dc958e"/>
<rect x="227.10" y="314.40" width="12.2" height="40.20" fill="white" stroke="#383838" stroke-width="1.2"/>
<line x1="233.20" y1="305.30" x2="233.20" y2="322.80" stroke="#383838" stroke-width="1.1"/>
<line x1="229.60" y1="305.30" x2="236.80" y2="305.30" stroke="#383838" stroke-width="1.2"/>
<line x1="229.60" y1="322.80" x2="236.80" y2="322.80" stroke="#383838" stroke-width="1.2"/>
<path d="M228.50 281.70L230.70 283.90L228.50 286.10L226.30 283.90Z" fill="#dc958e"/>
<path d="M237.00 280.70L239.20 282.90L237.00 285.10L234.80 282.90Z" fill="#dc958e"/>
<path d="M232.90 285.60L235.10 287.80L232.90 290.00L230.70 287.80Z" fill="#dc958e"/>
<path d="M232.90 295.20L235.10 297.40L232.90 299.60L230.70 297.40Z" fill="#dc958e"/>
<path d="M231.20 319.20L233.40 321.40L231.20 323.60L229.00 321.40Z" fill="#dc958e"/>
<path d="M234.70 320.60L236.90 322.80L234.70 325.00L232.50 322.80Z" fill="#dc958e"/>
<path d="M232.90 332.80L235.10 335.00L232.90 337.20L230.70 335.00Z" fill="#dc958e"/>
<path d="M232.90 339.90L235.10 342.10L232.90 344.30L230.70 342.10Z" fill="#dc958e"/>
<path d="M232.90 346.50L235.10 348.70L232.90 350.90L230.70 348.70Z" fill="#dc958e"/>
<line x1="72.80" y1="354.60" x2="246.50" y2="354.60" stroke="#333" stroke-width="1.3"/>
<text x="75.70" y="365.60" font-size="8.3" font-style="italic" text-anchor="end" fill="#3a3a3a" textLength="74" lengthAdjust="spacingAndGlyphs">Hfe<tspan font-size="4.98" dy="-2.4">−/−</tspan><tspan dy="2.4">;Tfrc</tspan><tspan font-size="4.98" dy="-2.4">fl/fl</tspan><tspan dy="2.4">;Alb-Cre</tspan></text>
<text x="85.60" y="364.70" font-size="8" text-anchor="middle" font-weight="normal" font-style="normal" fill="#444">–</text>
<text x="104.90" y="364.70" font-size="8" text-anchor="middle" font-weight="normal" font-style="normal" fill="#444">+</text>
<text x="124.20" y="364.70" font-size="8" text-anchor="middle" font-weight="normal" font-style="normal" fill="#444">–</text>
<text x="143.50" y="364.70" font-size="8" text-anchor="middle" font-weight="normal" font-style="normal" fill="#444">+</text>
<text x="175.30" y="364.70" font-size="8" text-anchor="middle" font-weight="normal" font-style="normal" fill="#444">–</text>
<text x="194.60" y="364.70" font-size="8" text-anchor="middle" font-weight="normal" font-style="normal" fill="#444">+</text>
<text x="213.90" y="364.70" font-size="8" text-anchor="middle" font-weight="normal" font-style="normal" fill="#444">–</text>
<text x="233.20" y="364.70" font-size="8" text-anchor="middle" font-weight="normal" font-style="normal" fill="#444">+</text>
<line x1="81.80" y1="369.50" x2="108.00" y2="369.50" stroke="#444" stroke-width="1.3"/>
<text x="94.90" y="380.20" font-size="8.3" text-anchor="middle" font-weight="normal" font-style="normal" fill="#3a3a3a">Male</text>
<line x1="120.40" y1="369.50" x2="146.60" y2="369.50" stroke="#444" stroke-width="1.3"/>
<text x="133.50" y="380.20" font-size="8.3" text-anchor="middle" font-weight="normal" font-style="normal" fill="#3a3a3a">Female</text>
<line x1="171.50" y1="369.50" x2="197.70" y2="369.50" stroke="#444" stroke-width="1.3"/>
<text x="184.60" y="380.20" font-size="8.3" text-anchor="middle" font-weight="normal" font-style="normal" fill="#3a3a3a">Male</text>
<line x1="210.10" y1="369.50" x2="236.30" y2="369.50" stroke="#444" stroke-width="1.3"/>
<text x="223.20" y="380.20" font-size="8.3" text-anchor="middle" font-weight="normal" font-style="normal" fill="#3a3a3a">Female</text>
<text x="304.40" y="262.80" font-size="12.2" font-weight="bold" fill="#111" style="stroke:#111;stroke-width:0.4px" textLength="6.20" lengthAdjust="spacingAndGlyphs">E</text>
<line x1="345.80" y1="264.50" x2="345.80" y2="355.80" stroke="#2e2e2e" stroke-width="1.25"/>
<line x1="342.80" y1="355.20" x2="345.80" y2="355.20" stroke="#2e2e2e" stroke-width="1.1"/>
<text x="339.90" y="358.60" font-size="9.6" text-anchor="end" font-weight="normal" font-style="normal" fill="#333" textLength="4.54" lengthAdjust="spacingAndGlyphs">0</text>
<line x1="342.80" y1="325.77" x2="345.80" y2="325.77" stroke="#2e2e2e" stroke-width="1.1"/>
<text x="339.90" y="329.17" font-size="9.6" text-anchor="end" font-weight="normal" font-style="normal" fill="#333" textLength="13.61" lengthAdjust="spacingAndGlyphs">200</text>
<line x1="342.80" y1="296.33" x2="345.80" y2="296.33" stroke="#2e2e2e" stroke-width="1.1"/>
<text x="339.90" y="299.73" font-size="9.6" text-anchor="end" font-weight="normal" font-style="normal" fill="#333" textLength="13.61" lengthAdjust="spacingAndGlyphs">400</text>
<line x1="342.80" y1="266.90" x2="345.80" y2="266.90" stroke="#2e2e2e" stroke-width="1.1"/>
<text x="339.90" y="270.30" font-size="9.6" text-anchor="end" font-weight="normal" font-style="normal" fill="#333" textLength="13.61" lengthAdjust="spacingAndGlyphs">600</text>
<text transform="translate(320.20,309.00) rotate(-90)" x="0" y="0" font-size="8.8" text-anchor="middle" fill="#333" textLength="55.9" lengthAdjust="spacingAndGlyphs">Liver iron (μg/g)</text>
<line x1="354.20" y1="264.80" x2="420.60" y2="264.80" stroke="#666" stroke-width="1.6"/>
<text x="387.50" y="259.80" font-size="8.3" text-anchor="middle" font-weight="normal" font-style="normal" fill="#3a3a3a">Control</text>
<line x1="444.30" y1="264.80" x2="510.80" y2="264.80" stroke="#666" stroke-width="1.6"/>
<text x="477.70" y="259.80" font-size="8.3" text-anchor="middle" font-weight="normal" font-style="normal" fill="#3a3a3a">Low Fe</text>
<rect x="352.80" y="319.60" width="12.2" height="35.60" fill="white" stroke="#444" stroke-width="1.2"/>
<line x1="358.90" y1="314.60" x2="358.90" y2="323.70" stroke="#444" stroke-width="1.1"/>
<line x1="355.30" y1="314.60" x2="362.50" y2="314.60" stroke="#444" stroke-width="1.2"/>
<line x1="355.30" y1="323.70" x2="362.50" y2="323.70" stroke="#444" stroke-width="1.2"/>
<rect x="356.90" y="288.80" width="4.2" height="4.2" fill="#174774"/>
<rect x="352.60" y="321.60" width="4.2" height="4.2" fill="#174774"/>
<rect x="356.90" y="320.70" width="4.2" height="4.2" fill="#174774"/>
<rect x="361.30" y="321.60" width="4.2" height="4.2" fill="#174774"/>
<rect x="354.70" y="323.30" width="4.2" height="4.2" fill="#174774"/>
<rect x="359.00" y="323.90" width="4.2" height="4.2" fill="#174774"/>
<rect x="356.90" y="315.40" width="4.2" height="4.2" fill="#174774"/>
<rect x="372.00" y="315.80" width="12.2" height="39.40" fill="white" stroke="#444" stroke-width="1.2"/>
<line x1="378.10" y1="313.20" x2="378.10" y2="318.40" stroke="#444" stroke-width="1.1"/>
<line x1="374.50" y1="313.20" x2="381.70" y2="313.20" stroke="#444" stroke-width="1.2"/>
<line x1="374.50" y1="318.40" x2="381.70" y2="318.40" stroke="#444" stroke-width="1.2"/>
<rect x="376.00" y="303.20" width="4.2" height="4.2" fill="#174774"/>
<rect x="371.80" y="313.70" width="4.2" height="4.2" fill="#174774"/>
<rect x="376.00" y="312.80" width="4.2" height="4.2" fill="#174774"/>
<rect x="380.60" y="311.60" width="4.2" height="4.2" fill="#174774"/>
<rect x="378.30" y="315.40" width="4.2" height="4.2" fill="#174774"/>
<rect x="376.00" y="323.90" width="4.2" height="4.2" fill="#174774"/>
<rect x="391.20" y="308.80" width="12.2" height="46.40" fill="white" stroke="#444" stroke-width="1.2"/>
<line x1="397.30" y1="303.20" x2="397.30" y2="312.60" stroke="#444" stroke-width="1.1"/>
<line x1="393.70" y1="303.20" x2="400.90" y2="303.20" stroke="#444" stroke-width="1.2"/>
<line x1="393.70" y1="312.60" x2="400.90" y2="312.60" stroke="#444" stroke-width="1.2"/>
<path d="M397.60 284.45L400.05 286.90L397.60 289.35L395.15 286.90Z" fill="#c20f38"/>
<path d="M393.50 297.55L395.95 300.00L393.50 302.45L391.05 300.00Z" fill="#c20f38"/>
<path d="M397.90 302.85L400.35 305.30L397.90 307.75L395.45 305.30Z" fill="#c20f38"/>
<path d="M393.50 305.45L395.95 307.90L393.50 310.35L391.05 307.90Z" fill="#c20f38"/>
<path d="M401.90 306.35L404.35 308.80L401.90 311.25L399.45 308.80Z" fill="#c20f38"/>
<path d="M399.10 318.55L401.55 321.00L399.10 323.45L396.65 321.00Z" fill="#c20f38"/>
<path d="M394.90 322.95L397.35 325.40L394.90 327.85L392.45 325.40Z" fill="#c20f38"/>
<rect x="410.40" y="297.40" width="12.2" height="57.80" fill="white" stroke="#444" stroke-width="1.2"/>
<line x1="416.50" y1="289.50" x2="416.50" y2="304.40" stroke="#444" stroke-width="1.1"/>
<line x1="412.90" y1="289.50" x2="420.10" y2="289.50" stroke="#444" stroke-width="1.2"/>
<line x1="412.90" y1="304.40" x2="420.10" y2="304.40" stroke="#444" stroke-width="1.2"/>
<path d="M412.80 270.95L415.25 273.40L412.80 275.85L410.35 273.40Z" fill="#c20f38"/>
<path d="M420.20 270.95L422.65 273.40L420.20 275.85L417.75 273.40Z" fill="#c20f38"/>
<path d="M417.20 289.65L419.65 292.10L417.20 294.55L414.75 292.10Z" fill="#c20f38"/>
<path d="M417.20 294.95L419.65 297.40L417.20 299.85L414.75 297.40Z" fill="#c20f38"/>
<path d="M417.20 302.45L419.65 304.90L417.20 307.35L414.75 304.90Z" fill="#c20f38"/>
<path d="M417.20 308.05L419.65 310.50L417.20 312.95L414.75 310.50Z" fill="#c20f38"/>
<path d="M417.20 323.85L419.65 326.30L417.20 328.75L414.75 326.30Z" fill="#c20f38"/>
<rect x="442.60" y="344.60" width="12.2" height="10.60" fill="white" stroke="#444" stroke-width="1.2"/>
<line x1="448.70" y1="339.70" x2="448.70" y2="348.50" stroke="#444" stroke-width="1.1"/>
<line x1="445.10" y1="339.70" x2="452.30" y2="339.70" stroke="#444" stroke-width="1.2"/>
<line x1="445.10" y1="348.50" x2="452.30" y2="348.50" stroke="#444" stroke-width="1.2"/>
<rect x="445.40" y="320.20" width="4.2" height="4.2" fill="#8f94b4"/>
<rect x="447.40" y="321.00" width="4.2" height="4.2" fill="#8f94b4"/>
<rect x="443.60" y="344.80" width="4.2" height="4.2" fill="#8f94b4"/>
<rect x="447.40" y="345.60" width="4.2" height="4.2" fill="#8f94b4"/>
<rect x="450.50" y="347.10" width="4.2" height="4.2" fill="#8f94b4"/>
<rect x="442.10" y="350.20" width="4.2" height="4.2" fill="#8f94b4"/>
<rect x="445.10" y="350.20" width="4.2" height="4.2" fill="#8f94b4"/>
<rect x="449.00" y="351.00" width="4.2" height="4.2" fill="#8f94b4"/>
<rect x="445.40" y="344.10" width="4.2" height="4.2" fill="#8f94b4"/>
<rect x="461.80" y="344.60" width="12.2" height="10.60" fill="white" stroke="#444" stroke-width="1.2"/>
<line x1="467.90" y1="338.80" x2="467.90" y2="349.20" stroke="#444" stroke-width="1.1"/>
<line x1="464.30" y1="338.80" x2="471.50" y2="338.80" stroke="#444" stroke-width="1.2"/>
<line x1="464.30" y1="349.20" x2="471.50" y2="349.20" stroke="#444" stroke-width="1.2"/>
<rect x="465.90" y="309.00" width="4.2" height="4.2" fill="#8f94b4"/>
<rect x="465.90" y="328.40" width="4.2" height="4.2" fill="#8f94b4"/>
<rect x="463.60" y="347.10" width="4.2" height="4.2" fill="#8f94b4"/>
<rect x="468.20" y="347.10" width="4.2" height="4.2" fill="#8f94b4"/>
<rect x="461.30" y="350.20" width="4.2" height="4.2" fill="#8f94b4"/>
<rect x="469.70" y="349.40" width="4.2" height="4.2" fill="#8f94b4"/>
<rect x="465.90" y="351.00" width="4.2" height="4.2" fill="#8f94b4"/>
<rect x="481.00" y="346.90" width="12.2" height="8.30" fill="white" stroke="#444" stroke-width="1.2"/>
<line x1="487.10" y1="343.00" x2="487.10" y2="350.00" stroke="#444" stroke-width="1.1"/>
<line x1="483.50" y1="343.00" x2="490.70" y2="343.00" stroke="#444" stroke-width="1.2"/>
<line x1="483.50" y1="350.00" x2="490.70" y2="350.00" stroke="#444" stroke-width="1.2"/>
<path d="M485.70 334.70L487.90 336.90L485.70 339.10L483.50 336.90Z" fill="#dc958e"/>
<path d="M482.60 337.80L484.80 340.00L482.60 342.20L480.40 340.00Z" fill="#dc958e"/>
<path d="M488.80 337.80L491.00 340.00L488.80 342.20L486.60 340.00Z" fill="#dc958e"/>
<path d="M484.20 340.90L486.40 343.10L484.20 345.30L482.00 343.10Z" fill="#dc958e"/>
<path d="M491.10 341.60L493.30 343.80L491.10 346.00L488.90 343.80Z" fill="#dc958e"/>
<path d="M487.20 344.00L489.40 346.20L487.20 348.40L485.00 346.20Z" fill="#dc958e"/>
<path d="M482.60 345.50L484.80 347.70L482.60 349.90L480.40 347.70Z" fill="#dc958e"/>
<path d="M491.10 346.30L493.30 348.50L491.10 350.70L488.90 348.50Z" fill="#dc958e"/>
<path d="M484.20 348.60L486.40 350.80L484.20 353.00L482.00 350.80Z" fill="#dc958e"/>
<path d="M488.80 348.60L491.00 350.80L488.80 353.00L486.60 350.80Z" fill="#dc958e"/>
<path d="M486.50 350.90L488.70 353.10L486.50 355.30L484.30 353.10Z" fill="#dc958e"/>
<rect x="500.20" y="346.90" width="12.2" height="8.30" fill="white" stroke="#444" stroke-width="1.2"/>
<line x1="506.30" y1="342.30" x2="506.30" y2="350.80" stroke="#444" stroke-width="1.1"/>
<line x1="502.70" y1="342.30" x2="509.90" y2="342.30" stroke="#444" stroke-width="1.2"/>
<line x1="502.70" y1="350.80" x2="509.90" y2="350.80" stroke="#444" stroke-width="1.2"/>
<path d="M506.00 319.30L508.20 321.50L506.00 323.70L503.80 321.50Z" fill="#dc958e"/>
<path d="M506.00 326.30L508.20 328.50L506.00 330.70L503.80 328.50Z" fill="#dc958e"/>
<path d="M504.20 348.60L506.40 350.80L504.20 353.00L502.00 350.80Z" fill="#dc958e"/>
<path d="M508.00 348.60L510.20 350.80L508.00 353.00L505.80 350.80Z" fill="#dc958e"/>
<path d="M503.40 350.90L505.60 353.10L503.40 355.30L501.20 353.10Z" fill="#dc958e"/>
<path d="M509.50 350.90L511.70 353.10L509.50 355.30L507.30 353.10Z" fill="#dc958e"/>
<line x1="345.80" y1="355.20" x2="520.00" y2="355.20" stroke="#333" stroke-width="1.3"/>
<text x="348.80" y="366.50" font-size="8.3" font-style="italic" text-anchor="end" fill="#3a3a3a" textLength="74" lengthAdjust="spacingAndGlyphs">Hfe<tspan font-size="4.98" dy="-2.4">−/−</tspan><tspan dy="2.4">;Tfrc</tspan><tspan font-size="4.98" dy="-2.4">fl/fl</tspan><tspan dy="2.4" font-style="normal">;Alb-Cre</tspan></text>
<text x="358.90" y="365.60" font-size="8" text-anchor="middle" font-weight="normal" font-style="normal" fill="#444">–</text>
<text x="378.10" y="365.60" font-size="8" text-anchor="middle" font-weight="normal" font-style="normal" fill="#444">+</text>
<text x="397.30" y="365.60" font-size="8" text-anchor="middle" font-weight="normal" font-style="normal" fill="#444">–</text>
<text x="416.50" y="365.60" font-size="8" text-anchor="middle" font-weight="normal" font-style="normal" fill="#444">+</text>
<text x="448.70" y="365.60" font-size="8" text-anchor="middle" font-weight="normal" font-style="normal" fill="#444">–</text>
<text x="467.90" y="365.60" font-size="8" text-anchor="middle" font-weight="normal" font-style="normal" fill="#444">+</text>
<text x="487.10" y="365.60" font-size="8" text-anchor="middle" font-weight="normal" font-style="normal" fill="#444">–</text>
<text x="506.30" y="365.60" font-size="8" text-anchor="middle" font-weight="normal" font-style="normal" fill="#444">+</text>
<line x1="355.10" y1="369.80" x2="381.20" y2="369.80" stroke="#444" stroke-width="1.3"/>
<text x="368.15" y="380.40" font-size="8.3" text-anchor="middle" font-weight="normal" font-style="normal" fill="#3a3a3a">Male</text>
<line x1="393.50" y1="369.80" x2="419.60" y2="369.80" stroke="#444" stroke-width="1.3"/>
<text x="406.55" y="380.40" font-size="8.3" text-anchor="middle" font-weight="normal" font-style="normal" fill="#3a3a3a">Female</text>
<line x1="444.90" y1="369.80" x2="471.00" y2="369.80" stroke="#444" stroke-width="1.3"/>
<text x="457.95" y="380.40" font-size="8.3" text-anchor="middle" font-weight="normal" font-style="normal" fill="#3a3a3a">Male</text>
<line x1="483.30" y1="369.80" x2="509.40" y2="369.80" stroke="#444" stroke-width="1.3"/>
<text x="496.35" y="380.40" font-size="8.3" text-anchor="middle" font-weight="normal" font-style="normal" fill="#3a3a3a">Female</text>
<text x="31.30" y="407.10" font-size="12.2" font-weight="bold" fill="#111" style="stroke:#111;stroke-width:0.4px" textLength="5.80" lengthAdjust="spacingAndGlyphs">F</text>
<line x1="72.80" y1="409.40" x2="72.80" y2="499.60" stroke="#2e2e2e" stroke-width="1.25"/>
<line x1="69.80" y1="499.00" x2="72.80" y2="499.00" stroke="#2e2e2e" stroke-width="1.1"/>
<text x="66.90" y="502.40" font-size="9.6" text-anchor="end" font-weight="normal" font-style="normal" fill="#333" textLength="11.34" lengthAdjust="spacingAndGlyphs">0.0</text>
<line x1="69.80" y1="481.55" x2="72.80" y2="481.55" stroke="#2e2e2e" stroke-width="1.1"/>
<text x="66.90" y="484.95" font-size="9.6" text-anchor="end" font-weight="normal" font-style="normal" fill="#333" textLength="11.34" lengthAdjust="spacingAndGlyphs">0.5</text>
<line x1="69.80" y1="464.10" x2="72.80" y2="464.10" stroke="#2e2e2e" stroke-width="1.1"/>
<text x="66.90" y="467.50" font-size="9.6" text-anchor="end" font-weight="normal" font-style="normal" fill="#333" textLength="11.34" lengthAdjust="spacingAndGlyphs">1.0</text>
<line x1="69.80" y1="446.65" x2="72.80" y2="446.65" stroke="#2e2e2e" stroke-width="1.1"/>
<text x="66.90" y="450.05" font-size="9.6" text-anchor="end" font-weight="normal" font-style="normal" fill="#333" textLength="11.34" lengthAdjust="spacingAndGlyphs">1.5</text>
<line x1="69.80" y1="429.20" x2="72.80" y2="429.20" stroke="#2e2e2e" stroke-width="1.1"/>
<text x="66.90" y="432.60" font-size="9.6" text-anchor="end" font-weight="normal" font-style="normal" fill="#333" textLength="11.34" lengthAdjust="spacingAndGlyphs">2.0</text>
<line x1="69.80" y1="411.75" x2="72.80" y2="411.75" stroke="#2e2e2e" stroke-width="1.1"/>
<text x="66.90" y="415.15" font-size="9.6" text-anchor="end" font-weight="normal" font-style="normal" fill="#333" textLength="11.34" lengthAdjust="spacingAndGlyphs">2.5</text>
<text transform="translate(38.90,453.90) rotate(-90)" x="0" y="0" font-size="8.8" text-anchor="middle" fill="#333" textLength="67.7" lengthAdjust="spacingAndGlyphs"><tspan font-style="italic">Hamp/Rpl19</tspan> mRNA</text>
<text transform="translate(49.60,454.20) rotate(-90)" x="0" y="0" font-size="8.8" text-anchor="middle" fill="#333" textLength="40" lengthAdjust="spacingAndGlyphs">fold change</text>
<line x1="81.30" y1="409.00" x2="147.60" y2="409.00" stroke="#666" stroke-width="1.6"/>
<text x="114.50" y="404.20" font-size="8.3" text-anchor="middle" font-weight="normal" font-style="normal" fill="#3a3a3a">Control</text>
<line x1="169.40" y1="409.00" x2="235.10" y2="409.00" stroke="#666" stroke-width="1.6"/>
<text x="202.00" y="404.20" font-size="8.3" text-anchor="middle" font-weight="normal" font-style="normal" fill="#3a3a3a">Low Fe</text>
<rect x="79.50" y="463.10" width="12.2" height="35.90" fill="white" stroke="#303030" stroke-width="1.2"/>
<line x1="85.60" y1="461.30" x2="85.60" y2="465.50" stroke="#303030" stroke-width="1.1"/>
<line x1="82.00" y1="461.30" x2="89.20" y2="461.30" stroke="#303030" stroke-width="1.2"/>
<line x1="82.00" y1="465.50" x2="89.20" y2="465.50" stroke="#303030" stroke-width="1.2"/>
<rect x="81.00" y="452.00" width="4.2" height="4.2" fill="#174774"/>
<rect x="85.50" y="455.20" width="4.2" height="4.2" fill="#174774"/>
<rect x="79.20" y="461.60" width="4.2" height="4.2" fill="#174774"/>
<rect x="83.70" y="460.30" width="4.2" height="4.2" fill="#174774"/>
<rect x="88.20" y="462.90" width="4.2" height="4.2" fill="#174774"/>
<rect x="83.40" y="465.20" width="4.2" height="4.2" fill="#174774"/>
<rect x="83.40" y="467.90" width="4.2" height="4.2" fill="#174774"/>
<rect x="83.40" y="472.40" width="4.2" height="4.2" fill="#174774"/>
<rect x="98.80" y="466.40" width="12.2" height="32.60" fill="white" stroke="#303030" stroke-width="1.2"/>
<line x1="104.90" y1="462.40" x2="104.90" y2="470.00" stroke="#303030" stroke-width="1.1"/>
<line x1="101.30" y1="462.40" x2="108.50" y2="462.40" stroke="#303030" stroke-width="1.2"/>
<line x1="101.30" y1="470.00" x2="108.50" y2="470.00" stroke="#303030" stroke-width="1.2"/>
<rect x="102.70" y="450.70" width="4.2" height="4.2" fill="#174774"/>
<rect x="98.20" y="457.40" width="4.2" height="4.2" fill="#174774"/>
<rect x="106.80" y="458.50" width="4.2" height="4.2" fill="#174774"/>
<rect x="102.70" y="463.40" width="4.2" height="4.2" fill="#174774"/>
<rect x="102.70" y="472.40" width="4.2" height="4.2" fill="#174774"/>
<rect x="102.70" y="479.60" width="4.2" height="4.2" fill="#174774"/>
<rect x="118.10" y="454.10" width="12.2" height="44.90" fill="white" stroke="#303030" stroke-width="1.2"/>
<line x1="124.20" y1="447.40" x2="124.20" y2="460.10" stroke="#303030" stroke-width="1.1"/>
<line x1="120.60" y1="447.40" x2="127.80" y2="447.40" stroke="#303030" stroke-width="1.2"/>
<line x1="120.60" y1="460.10" x2="127.80" y2="460.10" stroke="#303030" stroke-width="1.2"/>
<path d="M123.70 423.85L126.15 426.30L123.70 428.75L121.25 426.30Z" fill="#c20f38"/>
<path d="M123.70 431.05L126.15 433.50L123.70 435.95L121.25 433.50Z" fill="#c20f38"/>
<path d="M119.20 457.65L121.65 460.10L119.20 462.55L116.75 460.10Z" fill="#c20f38"/>
<path d="M127.70 455.25L130.15 457.70L127.70 460.15L125.25 457.70Z" fill="#c20f38"/>
<path d="M123.70 461.25L126.15 463.70L123.70 466.15L121.25 463.70Z" fill="#c20f38"/>
<path d="M127.70 461.25L130.15 463.70L127.70 466.15L125.25 463.70Z" fill="#c20f38"/>
<path d="M123.40 466.65L125.85 469.10L123.40 471.55L120.95 469.10Z" fill="#c20f38"/>
<rect x="137.40" y="454.10" width="12.2" height="44.90" fill="white" stroke="#303030" stroke-width="1.2"/>
<line x1="143.50" y1="447.80" x2="143.50" y2="460.10" stroke="#303030" stroke-width="1.1"/>
<line x1="139.90" y1="447.80" x2="147.10" y2="447.80" stroke="#303030" stroke-width="1.2"/>
<line x1="139.90" y1="460.10" x2="147.10" y2="460.10" stroke="#303030" stroke-width="1.2"/>
<path d="M139.10 434.65L141.55 437.10L139.10 439.55L136.65 437.10Z" fill="#c20f38"/>
<path d="M143.20 436.85L145.65 439.30L143.20 441.75L140.75 439.30Z" fill="#c20f38"/>
<path d="M147.20 435.95L149.65 438.40L147.20 440.85L144.75 438.40Z" fill="#c20f38"/>
<path d="M139.10 456.75L141.55 459.20L139.10 461.65L136.65 459.20Z" fill="#c20f38"/>
<path d="M147.20 457.65L149.65 460.10L147.20 462.55L144.75 460.10Z" fill="#c20f38"/>
<path d="M143.20 460.65L145.65 463.10L143.20 465.55L140.75 463.10Z" fill="#c20f38"/>
<path d="M142.70 475.65L145.15 478.10L142.70 480.55L140.25 478.10Z" fill="#c20f38"/>
<rect x="169.20" y="491.30" width="12.2" height="7.70" fill="white" stroke="#303030" stroke-width="1.2"/>
<line x1="175.30" y1="485.90" x2="175.30" y2="495.30" stroke="#303030" stroke-width="1.1"/>
<line x1="171.70" y1="485.90" x2="178.90" y2="485.90" stroke="#303030" stroke-width="1.2"/>
<line x1="171.70" y1="495.30" x2="178.90" y2="495.30" stroke="#303030" stroke-width="1.2"/>
<rect x="171.60" y="465.20" width="4.2" height="4.2" fill="#8f94b4"/>
<rect x="173.40" y="467.00" width="4.2" height="4.2" fill="#8f94b4"/>
<rect x="172.50" y="485.00" width="4.2" height="4.2" fill="#8f94b4"/>
<rect x="170.70" y="494.10" width="4.2" height="4.2" fill="#8f94b4"/>
<rect x="175.20" y="494.10" width="4.2" height="4.2" fill="#8f94b4"/>
<rect x="188.50" y="484.80" width="12.2" height="14.20" fill="white" stroke="#303030" stroke-width="1.2"/>
<line x1="194.60" y1="474.50" x2="194.60" y2="493.80" stroke="#303030" stroke-width="1.1"/>
<line x1="191.00" y1="474.50" x2="198.20" y2="474.50" stroke="#303030" stroke-width="1.2"/>
<line x1="191.00" y1="493.80" x2="198.20" y2="493.80" stroke="#303030" stroke-width="1.2"/>
<rect x="193.30" y="436.80" width="4.2" height="4.2" fill="#8f94b4"/>
<rect x="190.90" y="440.80" width="4.2" height="4.2" fill="#8f94b4"/>
<rect x="189.70" y="495.00" width="4.2" height="4.2" fill="#8f94b4"/>
<rect x="195.10" y="495.00" width="4.2" height="4.2" fill="#8f94b4"/>
<rect x="207.80" y="485.30" width="12.2" height="13.70" fill="white" stroke="#303030" stroke-width="1.2"/>
<line x1="213.90" y1="480.80" x2="213.90" y2="488.40" stroke="#303030" stroke-width="1.1"/>
<line x1="210.30" y1="480.80" x2="217.50" y2="480.80" stroke="#303030" stroke-width="1.2"/>
<line x1="210.30" y1="488.40" x2="217.50" y2="488.40" stroke="#303030" stroke-width="1.2"/>
<path d="M214.00 460.90L216.20 463.10L214.00 465.30L211.80 463.10Z" fill="#dc958e"/>
<path d="M214.00 467.40L216.20 469.60L214.00 471.80L211.80 469.60Z" fill="#dc958e"/>
<path d="M214.00 473.60L216.20 475.80L214.00 478.00L211.80 475.80Z" fill="#dc958e"/>
<path d="M211.60 474.10L213.80 476.30L211.60 478.50L209.40 476.30Z" fill="#dc958e"/>
<path d="M215.20 475.00L217.40 477.20L215.20 479.40L213.00 477.20Z" fill="#dc958e"/>
<path d="M212.20 478.60L214.40 480.80L212.20 483.00L210.00 480.80Z" fill="#dc958e"/>
<path d="M214.00 480.40L216.20 482.60L214.00 484.80L211.80 482.60Z" fill="#dc958e"/>
<path d="M209.80 489.40L212.00 491.60L209.80 493.80L207.60 491.60Z" fill="#dc958e"/>
<path d="M211.60 493.10L213.80 495.30L211.60 497.50L209.40 495.30Z" fill="#dc958e"/>
<path d="M215.80 494.00L218.00 496.20L215.80 498.40L213.60 496.20Z" fill="#dc958e"/>
<rect x="227.10" y="484.40" width="12.2" height="14.60" fill="white" stroke="#303030" stroke-width="1.2"/>
<line x1="233.20" y1="475.00" x2="233.20" y2="493.80" stroke="#303030" stroke-width="1.1"/>
<line x1="229.60" y1="475.00" x2="236.80" y2="475.00" stroke="#303030" stroke-width="1.2"/>
<line x1="229.60" y1="493.80" x2="236.80" y2="493.80" stroke="#303030" stroke-width="1.2"/>
<path d="M232.80 418.10L235.00 420.30L232.80 422.50L230.60 420.30Z" fill="#dc958e"/>
<path d="M232.80 453.00L235.00 455.20L232.80 457.40L230.60 455.20Z" fill="#dc958e"/>
<path d="M232.80 486.20L235.00 488.40L232.80 490.60L230.60 488.40Z" fill="#dc958e"/>
<path d="M230.60 494.90L232.80 497.10L230.60 499.30L228.40 497.10Z" fill="#dc958e"/>
<path d="M234.20 494.90L236.40 497.10L234.20 499.30L232.00 497.10Z" fill="#dc958e"/>
<line x1="72.80" y1="499.00" x2="246.60" y2="499.00" stroke="#333" stroke-width="1.3"/>
<text x="75.50" y="510.40" font-size="8.3" font-style="italic" text-anchor="end" fill="#3a3a3a" textLength="74" lengthAdjust="spacingAndGlyphs">Hfe<tspan font-size="4.98" dy="-2.4">−/−</tspan><tspan dy="2.4">;Tfrc</tspan><tspan font-size="4.98" dy="-2.4">fl/fl</tspan><tspan dy="2.4" font-style="normal">;Alb-Cre</tspan></text>
<text x="85.60" y="509.50" font-size="8" text-anchor="middle" font-weight="normal" font-style="normal" fill="#444">–</text>
<text x="104.90" y="509.50" font-size="8" text-anchor="middle" font-weight="normal" font-style="normal" fill="#444">+</text>
<text x="124.20" y="509.50" font-size="8" text-anchor="middle" font-weight="normal" font-style="normal" fill="#444">–</text>
<text x="143.50" y="509.50" font-size="8" text-anchor="middle" font-weight="normal" font-style="normal" fill="#444">+</text>
<text x="175.30" y="509.50" font-size="8" text-anchor="middle" font-weight="normal" font-style="normal" fill="#444">–</text>
<text x="194.60" y="509.50" font-size="8" text-anchor="middle" font-weight="normal" font-style="normal" fill="#444">+</text>
<text x="213.90" y="509.50" font-size="8" text-anchor="middle" font-weight="normal" font-style="normal" fill="#444">–</text>
<text x="233.20" y="509.50" font-size="8" text-anchor="middle" font-weight="normal" font-style="normal" fill="#444">+</text>
<line x1="81.80" y1="513.50" x2="108.00" y2="513.50" stroke="#444" stroke-width="1.3"/>
<text x="94.90" y="524.50" font-size="8.3" text-anchor="middle" font-weight="normal" font-style="normal" fill="#3a3a3a">Male</text>
<line x1="120.40" y1="513.50" x2="146.60" y2="513.50" stroke="#444" stroke-width="1.3"/>
<text x="133.50" y="524.50" font-size="8.3" text-anchor="middle" font-weight="normal" font-style="normal" fill="#3a3a3a">Female</text>
<line x1="171.50" y1="513.50" x2="197.70" y2="513.50" stroke="#444" stroke-width="1.3"/>
<text x="184.60" y="524.50" font-size="8.3" text-anchor="middle" font-weight="normal" font-style="normal" fill="#3a3a3a">Male</text>
<line x1="210.10" y1="513.50" x2="236.30" y2="513.50" stroke="#444" stroke-width="1.3"/>
<text x="223.20" y="524.50" font-size="8.3" text-anchor="middle" font-weight="normal" font-style="normal" fill="#3a3a3a">Female</text>
<line x1="246.60" y1="409.80" x2="246.60" y2="499.60" stroke="#2e2e2e" stroke-width="1.25"/>
<line x1="246.60" y1="412.60" x2="249.60" y2="412.60" stroke="#303030" stroke-width="1.1"/>
<text x="252.80" y="416.00" font-size="9.6" text-anchor="start" font-weight="normal" font-style="normal" fill="#333" textLength="11.34" lengthAdjust="spacingAndGlyphs">0.3</text>
<line x1="246.60" y1="441.40" x2="249.60" y2="441.40" stroke="#303030" stroke-width="1.1"/>
<text x="252.80" y="444.80" font-size="9.6" text-anchor="start" font-weight="normal" font-style="normal" fill="#333" textLength="11.34" lengthAdjust="spacingAndGlyphs">0.2</text>
<line x1="246.60" y1="470.20" x2="249.60" y2="470.20" stroke="#303030" stroke-width="1.1"/>
<text x="252.80" y="473.60" font-size="9.6" text-anchor="start" font-weight="normal" font-style="normal" fill="#333" textLength="11.34" lengthAdjust="spacingAndGlyphs">0.1</text>
<line x1="246.60" y1="499.00" x2="249.60" y2="499.00" stroke="#303030" stroke-width="1.1"/>
<text x="252.80" y="502.40" font-size="9.6" text-anchor="start" font-weight="normal" font-style="normal" fill="#333" textLength="11.34" lengthAdjust="spacingAndGlyphs">0.0</text>
<path d="M156.3 502.2 L158.6 495.2 M158.8 502.2 L161.1 495.2" stroke="#333" stroke-width="1.1" fill="none"/>
<text x="294.30" y="407.10" font-size="12.2" font-weight="bold" fill="#111" style="stroke:#111;stroke-width:0.4px" textLength="8.50" lengthAdjust="spacingAndGlyphs">G</text>
<line x1="345.80" y1="409.50" x2="345.80" y2="499.00" stroke="#2e2e2e" stroke-width="1.25"/>
<line x1="342.80" y1="498.40" x2="345.80" y2="498.40" stroke="#2e2e2e" stroke-width="1.1"/>
<text x="339.90" y="501.80" font-size="9.6" text-anchor="end" font-weight="normal" font-style="normal" fill="#333" textLength="4.54" lengthAdjust="spacingAndGlyphs">0</text>
<line x1="342.80" y1="481.10" x2="345.80" y2="481.10" stroke="#2e2e2e" stroke-width="1.1"/>
<text x="339.90" y="484.50" font-size="9.6" text-anchor="end" font-weight="normal" font-style="normal" fill="#333" textLength="4.54" lengthAdjust="spacingAndGlyphs">1</text>
<line x1="342.80" y1="463.80" x2="345.80" y2="463.80" stroke="#2e2e2e" stroke-width="1.1"/>
<text x="339.90" y="467.20" font-size="9.6" text-anchor="end" font-weight="normal" font-style="normal" fill="#333" textLength="4.54" lengthAdjust="spacingAndGlyphs">2</text>
<line x1="342.80" y1="446.50" x2="345.80" y2="446.50" stroke="#2e2e2e" stroke-width="1.1"/>
<text x="339.90" y="449.90" font-size="9.6" text-anchor="end" font-weight="normal" font-style="normal" fill="#333" textLength="4.54" lengthAdjust="spacingAndGlyphs">3</text>
<line x1="342.80" y1="429.20" x2="345.80" y2="429.20" stroke="#2e2e2e" stroke-width="1.1"/>
<text x="339.90" y="432.60" font-size="9.6" text-anchor="end" font-weight="normal" font-style="normal" fill="#333" textLength="4.54" lengthAdjust="spacingAndGlyphs">4</text>
<line x1="342.80" y1="411.90" x2="345.80" y2="411.90" stroke="#2e2e2e" stroke-width="1.1"/>
<text x="339.90" y="415.30" font-size="9.6" text-anchor="end" font-weight="normal" font-style="normal" fill="#333" textLength="4.54" lengthAdjust="spacingAndGlyphs">5</text>
<text transform="translate(319.50,453.60) rotate(-90)" x="0" y="0" font-size="8.8" text-anchor="middle" fill="#333" textLength="57.6" lengthAdjust="spacingAndGlyphs"><tspan font-style="italic">Id1/Rpl19</tspan> mRNA</text>
<text transform="translate(329.60,454.00) rotate(-90)" x="0" y="0" font-size="8.8" text-anchor="middle" fill="#333" textLength="39.8" lengthAdjust="spacingAndGlyphs">fold change</text>
<line x1="354.30" y1="409.00" x2="421.10" y2="409.00" stroke="#666" stroke-width="1.6"/>
<text x="387.70" y="404.20" font-size="8.3" text-anchor="middle" font-weight="normal" font-style="normal" fill="#3a3a3a">Control</text>
<line x1="442.80" y1="409.00" x2="509.20" y2="409.00" stroke="#666" stroke-width="1.6"/>
<text x="476.00" y="404.20" font-size="8.3" text-anchor="middle" font-weight="normal" font-style="normal" fill="#3a3a3a">Low Fe</text>
<rect x="352.80" y="478.10" width="12.2" height="20.30" fill="white" stroke="#4a4a4a" stroke-width="1.2"/>
<line x1="358.90" y1="476.00" x2="358.90" y2="481.00" stroke="#4a4a4a" stroke-width="1.1"/>
<line x1="355.30" y1="476.00" x2="362.50" y2="476.00" stroke="#4a4a4a" stroke-width="1.2"/>
<line x1="355.30" y1="481.00" x2="362.50" y2="481.00" stroke="#4a4a4a" stroke-width="1.2"/>
<rect x="356.90" y="457.90" width="4.2" height="4.2" fill="#174774"/>
<rect x="351.80" y="476.40" width="4.2" height="4.2" fill="#174774"/>
<rect x="361.00" y="477.80" width="4.2" height="4.2" fill="#174774"/>
<rect x="351.80" y="481.90" width="4.2" height="4.2" fill="#174774"/>
<rect x="357.80" y="484.60" width="4.2" height="4.2" fill="#174774"/>
<rect x="361.00" y="485.50" width="4.2" height="4.2" fill="#174774"/>
<rect x="351.80" y="489.20" width="4.2" height="4.2" fill="#174774"/>
<rect x="355.40" y="482.90" width="4.2" height="4.2" fill="#174774"/>
<rect x="372.00" y="484.40" width="12.2" height="14.00" fill="white" stroke="#4a4a4a" stroke-width="1.2"/>
<line x1="378.10" y1="483.00" x2="378.10" y2="486.00" stroke="#4a4a4a" stroke-width="1.1"/>
<line x1="374.50" y1="483.00" x2="381.70" y2="483.00" stroke="#4a4a4a" stroke-width="1.2"/>
<line x1="374.50" y1="486.00" x2="381.70" y2="486.00" stroke="#4a4a4a" stroke-width="1.2"/>
<rect x="376.20" y="473.30" width="4.2" height="4.2" fill="#174774"/>
<rect x="372.10" y="482.30" width="4.2" height="4.2" fill="#174774"/>
<rect x="376.20" y="481.40" width="4.2" height="4.2" fill="#174774"/>
<rect x="380.20" y="482.30" width="4.2" height="4.2" fill="#174774"/>
<rect x="373.90" y="485.00" width="4.2" height="4.2" fill="#174774"/>
<rect x="378.40" y="485.00" width="4.2" height="4.2" fill="#174774"/>
<rect x="391.20" y="464.60" width="12.2" height="33.80" fill="white" stroke="#4a4a4a" stroke-width="1.2"/>
<line x1="397.30" y1="458.40" x2="397.30" y2="470.30" stroke="#4a4a4a" stroke-width="1.1"/>
<line x1="393.70" y1="458.40" x2="400.90" y2="458.40" stroke="#4a4a4a" stroke-width="1.2"/>
<line x1="393.70" y1="470.30" x2="400.90" y2="470.30" stroke="#4a4a4a" stroke-width="1.2"/>
<path d="M397.10 440.45L399.55 442.90L397.10 445.35L394.65 442.90Z" fill="#c20f38"/>
<path d="M393.50 450.35L395.95 452.80L393.50 455.25L391.05 452.80Z" fill="#c20f38"/>
<path d="M401.20 449.85L403.65 452.30L401.20 454.75L398.75 452.30Z" fill="#c20f38"/>
<path d="M393.50 467.55L395.95 470.00L393.50 472.45L391.05 470.00Z" fill="#c20f38"/>
<path d="M401.20 467.55L403.65 470.00L401.20 472.45L398.75 470.00Z" fill="#c20f38"/>
<path d="M397.10 474.75L399.55 477.20L397.10 479.65L394.65 477.20Z" fill="#c20f38"/>
<path d="M397.10 480.55L399.55 483.00L397.10 485.45L394.65 483.00Z" fill="#c20f38"/>
<rect x="410.40" y="454.10" width="12.2" height="44.30" fill="white" stroke="#4a4a4a" stroke-width="1.2"/>
<line x1="416.50" y1="447.40" x2="416.50" y2="460.10" stroke="#4a4a4a" stroke-width="1.1"/>
<line x1="412.90" y1="447.40" x2="420.10" y2="447.40" stroke="#4a4a4a" stroke-width="1.2"/>
<line x1="412.90" y1="460.10" x2="420.10" y2="460.10" stroke="#4a4a4a" stroke-width="1.2"/>
<path d="M416.20 416.05L418.65 418.50L416.20 420.95L413.75 418.50Z" fill="#c20f38"/>
<path d="M416.20 442.65L418.65 445.10L416.20 447.55L413.75 445.10Z" fill="#c20f38"/>
<path d="M412.10 453.45L414.55 455.90L412.10 458.35L409.65 455.90Z" fill="#c20f38"/>
<path d="M416.20 456.35L418.65 458.80L416.20 461.25L413.75 458.80Z" fill="#c20f38"/>
<path d="M420.20 454.85L422.65 457.30L420.20 459.75L417.75 457.30Z" fill="#c20f38"/>
<path d="M416.20 461.75L418.65 464.20L416.20 466.65L413.75 464.20Z" fill="#c20f38"/>
<path d="M420.20 463.55L422.65 466.00L420.20 468.45L417.75 466.00Z" fill="#c20f38"/>
<path d="M412.60 466.05L415.05 468.50L412.60 470.95L410.15 468.50Z" fill="#c20f38"/>
<rect x="442.60" y="489.80" width="12.2" height="8.60" fill="white" stroke="#4a4a4a" stroke-width="1.2"/>
<line x1="448.70" y1="488.00" x2="448.70" y2="491.50" stroke="#4a4a4a" stroke-width="1.1"/>
<line x1="445.10" y1="488.00" x2="452.30" y2="488.00" stroke="#4a4a4a" stroke-width="1.2"/>
<line x1="445.10" y1="491.50" x2="452.30" y2="491.50" stroke="#4a4a4a" stroke-width="1.2"/>
<rect x="446.70" y="474.70" width="4.2" height="4.2" fill="#8f94b4"/>
<rect x="444.00" y="486.30" width="4.2" height="4.2" fill="#8f94b4"/>
<rect x="448.90" y="486.30" width="4.2" height="4.2" fill="#8f94b4"/>
<rect x="442.20" y="489.50" width="4.2" height="4.2" fill="#8f94b4"/>
<rect x="446.70" y="489.50" width="4.2" height="4.2" fill="#8f94b4"/>
<rect x="451.20" y="489.90" width="4.2" height="4.2" fill="#8f94b4"/>
<rect x="444.00" y="492.30" width="4.2" height="4.2" fill="#8f94b4"/>
<rect x="448.90" y="492.30" width="4.2" height="4.2" fill="#8f94b4"/>
<rect x="461.80" y="488.90" width="12.2" height="9.50" fill="white" stroke="#4a4a4a" stroke-width="1.2"/>
<line x1="467.90" y1="487.50" x2="467.90" y2="490.50" stroke="#4a4a4a" stroke-width="1.1"/>
<line x1="464.30" y1="487.50" x2="471.50" y2="487.50" stroke="#4a4a4a" stroke-width="1.2"/>
<line x1="464.30" y1="490.50" x2="471.50" y2="490.50" stroke="#4a4a4a" stroke-width="1.2"/>
<rect x="462.10" y="483.20" width="4.2" height="4.2" fill="#8f94b4"/>
<rect x="465.70" y="484.10" width="4.2" height="4.2" fill="#8f94b4"/>
<rect x="470.20" y="483.80" width="4.2" height="4.2" fill="#8f94b4"/>
<rect x="462.10" y="486.80" width="4.2" height="4.2" fill="#8f94b4"/>
<rect x="465.70" y="487.70" width="4.2" height="4.2" fill="#8f94b4"/>
<rect x="470.20" y="487.70" width="4.2" height="4.2" fill="#8f94b4"/>
<rect x="463.00" y="491.00" width="4.2" height="4.2" fill="#8f94b4"/>
<rect x="469.30" y="491.00" width="4.2" height="4.2" fill="#8f94b4"/>
<rect x="481.00" y="478.10" width="12.2" height="20.30" fill="white" stroke="#4a4a4a" stroke-width="1.2"/>
<line x1="487.10" y1="473.20" x2="487.10" y2="481.70" stroke="#4a4a4a" stroke-width="1.1"/>
<line x1="483.50" y1="473.20" x2="490.70" y2="473.20" stroke="#4a4a4a" stroke-width="1.2"/>
<line x1="483.50" y1="481.70" x2="490.70" y2="481.70" stroke="#4a4a4a" stroke-width="1.2"/>
<path d="M487.10 434.40L489.30 436.60L487.10 438.80L484.90 436.60Z" fill="#dc958e"/>
<path d="M487.10 466.00L489.30 468.20L487.10 470.40L484.90 468.20Z" fill="#dc958e"/>
<path d="M485.80 476.80L488.00 479.00L485.80 481.20L483.60 479.00Z" fill="#dc958e"/>
<path d="M484.00 479.50L486.20 481.70L484.00 483.90L481.80 481.70Z" fill="#dc958e"/>
<path d="M489.40 480.40L491.60 482.60L489.40 484.80L487.20 482.60Z" fill="#dc958e"/>
<path d="M486.70 483.10L488.90 485.30L486.70 487.50L484.50 485.30Z" fill="#dc958e"/>
<path d="M491.80 483.10L494.00 485.30L491.80 487.50L489.60 485.30Z" fill="#dc958e"/>
<path d="M484.00 485.80L486.20 488.00L484.00 490.20L481.80 488.00Z" fill="#dc958e"/>
<path d="M491.80 487.30L494.00 489.50L491.80 491.70L489.60 489.50Z" fill="#dc958e"/>
<rect x="500.20" y="482.30" width="12.2" height="16.10" fill="white" stroke="#4a4a4a" stroke-width="1.2"/>
<line x1="506.30" y1="480.00" x2="506.30" y2="484.50" stroke="#4a4a4a" stroke-width="1.1"/>
<line x1="502.70" y1="480.00" x2="509.90" y2="480.00" stroke="#4a4a4a" stroke-width="1.2"/>
<line x1="502.70" y1="484.50" x2="509.90" y2="484.50" stroke="#4a4a4a" stroke-width="1.2"/>
<path d="M506.20 463.80L508.40 466.00L506.20 468.20L504.00 466.00Z" fill="#dc958e"/>
<path d="M504.80 476.40L507.00 478.60L504.80 480.80L502.60 478.60Z" fill="#dc958e"/>
<path d="M507.50 476.80L509.70 479.00L507.50 481.20L505.30 479.00Z" fill="#dc958e"/>
<path d="M503.00 479.50L505.20 481.70L503.00 483.90L500.80 481.70Z" fill="#dc958e"/>
<path d="M509.30 479.50L511.50 481.70L509.30 483.90L507.10 481.70Z" fill="#dc958e"/>
<path d="M504.80 483.10L507.00 485.30L504.80 487.50L502.60 485.30Z" fill="#dc958e"/>
<path d="M508.40 483.10L510.60 485.30L508.40 487.50L506.20 485.30Z" fill="#dc958e"/>
<line x1="345.80" y1="498.40" x2="520.00" y2="498.40" stroke="#333" stroke-width="1.3"/>
<text x="348.30" y="510.30" font-size="8.3" font-style="italic" text-anchor="end" fill="#3a3a3a" textLength="74" lengthAdjust="spacingAndGlyphs">Hfe<tspan font-size="4.98" dy="-2.4">−/−</tspan><tspan dy="2.4">;Tfrc</tspan><tspan font-size="4.98" dy="-2.4">fl/fl</tspan><tspan dy="2.4">;Alb-Cre</tspan></text>
<text x="358.90" y="509.40" font-size="8" text-anchor="middle" font-weight="normal" font-style="normal" fill="#444">–</text>
<text x="378.10" y="509.40" font-size="8" text-anchor="middle" font-weight="normal" font-style="normal" fill="#444">+</text>
<text x="397.30" y="509.40" font-size="8" text-anchor="middle" font-weight="normal" font-style="normal" fill="#444">–</text>
<text x="416.50" y="509.40" font-size="8" text-anchor="middle" font-weight="normal" font-style="normal" fill="#444">+</text>
<text x="448.70" y="509.40" font-size="8" text-anchor="middle" font-weight="normal" font-style="normal" fill="#444">–</text>
<text x="467.90" y="509.40" font-size="8" text-anchor="middle" font-weight="normal" font-style="normal" fill="#444">+</text>
<text x="487.10" y="509.40" font-size="8" text-anchor="middle" font-weight="normal" font-style="normal" fill="#444">–</text>
<text x="506.30" y="509.40" font-size="8" text-anchor="middle" font-weight="normal" font-style="normal" fill="#444">+</text>
<line x1="355.10" y1="513.50" x2="381.20" y2="513.50" stroke="#444" stroke-width="1.3"/>
<text x="368.15" y="524.50" font-size="8.3" text-anchor="middle" font-weight="normal" font-style="normal" fill="#3a3a3a">Male</text>
<line x1="393.50" y1="513.50" x2="419.60" y2="513.50" stroke="#444" stroke-width="1.3"/>
<text x="406.55" y="524.50" font-size="8.3" text-anchor="middle" font-weight="normal" font-style="normal" fill="#3a3a3a">Female</text>
<line x1="444.90" y1="513.50" x2="471.00" y2="513.50" stroke="#444" stroke-width="1.3"/>
<text x="457.95" y="524.50" font-size="8.3" text-anchor="middle" font-weight="normal" font-style="normal" fill="#3a3a3a">Male</text>
<line x1="483.30" y1="513.50" x2="509.40" y2="513.50" stroke="#444" stroke-width="1.3"/>
<text x="496.35" y="524.50" font-size="8.3" text-anchor="middle" font-weight="normal" font-style="normal" fill="#3a3a3a">Female</text>
<text x="30.60" y="163.50" font-size="12.2" font-weight="bold" fill="#111" style="stroke:#111;stroke-width:0.4px" textLength="7.70" lengthAdjust="spacingAndGlyphs">C</text>
<text x="169.20" y="162.20" font-size="8.3" text-anchor="middle" font-weight="normal" font-style="normal" fill="#3a3a3a">Control</text>
<text x="166.20" y="179.0" font-size="8.7" font-style="italic" text-anchor="end" fill="#333" textLength="76" lengthAdjust="spacingAndGlyphs">Hfe<tspan font-size="4.87" dy="-2.5">−/−</tspan><tspan dy="2.5">;Tfrc</tspan><tspan font-size="4.87" dy="-2.5">fl/fl</tspan><tspan dy="2.5">;Alb-Cre–</tspan></text>
<text x="250.20" y="179.0" font-size="8.7" font-style="italic" text-anchor="end" fill="#333" textLength="76" lengthAdjust="spacingAndGlyphs">Hfe<tspan font-size="4.87" dy="-2.5">−/−</tspan><tspan dy="2.5">;Tfrc</tspan><tspan font-size="4.87" dy="-2.5">fl/fl</tspan><tspan dy="2.5">;Alb-Cre+</tspan></text>
<line x1="89.30" y1="187.60" x2="164.60" y2="187.60" stroke="#444" stroke-width="1.4"/>
<line x1="173.70" y1="187.60" x2="248.40" y2="187.60" stroke="#444" stroke-width="1.4"/>
<rect x="88.60" y="192.20" width="160.80" height="43.90" fill="#dfe8f2"/>
<rect x="88.60" y="192.20" width="160.80" height="13.40" fill="#f1f2f3" stroke="#b4c8e0" stroke-width="1"/>
<rect x="89.10" y="192.70" width="159.80" height="1.4" fill="#dbe5f1"/>
<text x="82.20" y="203.80" font-size="7.9" text-anchor="end" font-weight="normal" font-style="normal" fill="#333" textLength="17.4" lengthAdjust="spacingAndGlyphs" style="stroke:#333;stroke-width:0.18px">TFR1</text>
<rect x="90.25" y="196.60" width="15.50" height="5.00" rx="2.50" fill="#bdb5b2" filter="url(#b2)"/>
<rect x="111.20" y="196.60" width="15.00" height="5.00" rx="2.50" fill="#b8b0ae" filter="url(#b2)"/>
<rect x="130.05" y="196.70" width="15.50" height="5.20" rx="2.60" fill="#b0a8a6" filter="url(#b2)"/>
<rect x="150.75" y="196.70" width="15.50" height="5.20" rx="2.60" fill="#b3abaa" filter="url(#b2)"/>
<rect x="173.70" y="197.15" width="13.00" height="3.50" rx="1.75" fill="#efe7e5" filter="url(#b2)"/>
<rect x="194.00" y="197.15" width="13.00" height="3.50" rx="1.75" fill="#f1e9e7" filter="url(#b2)"/>
<rect x="213.50" y="197.15" width="13.00" height="3.50" rx="1.75" fill="#f1e9e7" filter="url(#b2)"/>
<rect x="233.20" y="197.15" width="13.00" height="3.50" rx="1.75" fill="#efe7e5" filter="url(#b2)"/>
<rect x="88.60" y="207.10" width="160.80" height="13.50" fill="#f1f2f3" stroke="#b4c8e0" stroke-width="1"/>
<rect x="89.10" y="207.60" width="159.80" height="1.4" fill="#dbe5f1"/>
<text x="82.20" y="218.75" font-size="7.9" text-anchor="end" font-weight="normal" font-style="normal" fill="#333" textLength="17.4" lengthAdjust="spacingAndGlyphs" style="stroke:#333;stroke-width:0.18px">TFR2</text>
<rect x="91.50" y="211.75" width="13.00" height="2.60" rx="1.30" fill="#959595" filter="url(#b1)"/>
<rect x="112.20" y="211.95" width="13.00" height="3.00" rx="1.50" fill="#7c7c7c" filter="url(#b1)"/>
<rect x="131.80" y="212.65" width="12.00" height="2.40" rx="1.20" fill="#a8a8a8" filter="url(#b1)"/>
<rect x="151.75" y="212.45" width="13.50" height="2.80" rx="1.40" fill="#8e8e8e" filter="url(#b1)"/>
<rect x="174.20" y="212.05" width="12.00" height="2.40" rx="1.20" fill="#a3a3a3" filter="url(#b1)"/>
<rect x="194.50" y="212.05" width="12.00" height="2.40" rx="1.20" fill="#adadad" filter="url(#b1)"/>
<rect x="214.00" y="212.45" width="12.00" height="2.40" rx="1.20" fill="#a9a9a9" filter="url(#b1)"/>
<rect x="233.70" y="212.45" width="12.00" height="2.40" rx="1.20" fill="#adadad" filter="url(#b1)"/>
<rect x="88.60" y="222.60" width="160.80" height="13.50" fill="#f1f2f3" stroke="#b4c8e0" stroke-width="1"/>
<rect x="89.10" y="223.10" width="159.80" height="1.4" fill="#dbe5f1"/>
<text x="82.20" y="233.75" font-size="7.9" text-anchor="end" font-weight="normal" font-style="normal" fill="#333" textLength="18.2" lengthAdjust="spacingAndGlyphs" style="stroke:#333;stroke-width:0.18px">Actin</text>
<rect x="91.25" y="227.75" width="13.50" height="3.80" rx="1.90" fill="#111" filter="url(#b1)"/>
<rect x="112.45" y="228.15" width="12.50" height="3.60" rx="1.80" fill="#151515" filter="url(#b1)"/>
<rect x="131.80" y="228.05" width="12.00" height="3.40" rx="1.70" fill="#151515" filter="url(#b1)"/>
<rect x="152.00" y="227.35" width="13.00" height="3.60" rx="1.80" fill="#111" filter="url(#b1)"/>
<rect x="174.20" y="227.75" width="12.00" height="3.20" rx="1.60" fill="#1a1a1a" filter="url(#b1)"/>
<rect x="194.50" y="227.75" width="12.00" height="3.20" rx="1.60" fill="#1a1a1a" filter="url(#b1)"/>
<rect x="214.25" y="227.35" width="11.50" height="3.20" rx="1.60" fill="#1a1a1a" filter="url(#b1)"/>
<rect x="233.95" y="226.45" width="11.50" height="3.40" rx="1.70" fill="#111" filter="url(#b1)"/>
<text x="428.10" y="162.20" font-size="8.3" text-anchor="middle" font-weight="normal" font-style="normal" fill="#3a3a3a">Low Fe</text>
<text x="423.60" y="179.0" font-size="8.7" font-style="italic" text-anchor="end" fill="#333" textLength="76" lengthAdjust="spacingAndGlyphs">Hfe<tspan font-size="4.87" dy="-2.5">−/−</tspan><tspan dy="2.5">;Tfrc</tspan><tspan font-size="4.87" dy="-2.5">fl/fl</tspan><tspan dy="2.5">;Alb-Cre–</tspan></text>
<text x="508.20" y="179.0" font-size="8.7" font-style="italic" text-anchor="end" fill="#333" textLength="76" lengthAdjust="spacingAndGlyphs">Hfe<tspan font-size="4.87" dy="-2.5">−/−</tspan><tspan dy="2.5">;Tfrc</tspan><tspan font-size="4.87" dy="-2.5">fl/fl</tspan><tspan dy="2.5">;Alb-Cre+</tspan></text>
<line x1="348.30" y1="187.60" x2="423.40" y2="187.60" stroke="#444" stroke-width="1.4"/>
<line x1="432.50" y1="187.60" x2="507.00" y2="187.60" stroke="#444" stroke-width="1.4"/>
<rect x="345.40" y="192.30" width="161.40" height="44.80" fill="#dfe8f2"/>
<rect x="345.40" y="192.30" width="161.40" height="13.00" fill="#f1f2f3" stroke="#b4c8e0" stroke-width="1"/>
<rect x="345.90" y="192.80" width="160.40" height="1.4" fill="#dbe5f1"/>
<text x="338.40" y="203.70" font-size="7.9" text-anchor="end" font-weight="normal" font-style="normal" fill="#333" textLength="17.4" lengthAdjust="spacingAndGlyphs" style="stroke:#333;stroke-width:0.18px">TFR1</text>
<rect x="347.25" y="196.90" width="12.50" height="3.80" rx="1.90" fill="#151515" filter="url(#b1)"/>
<rect x="366.30" y="195.60" width="15.00" height="5.40" rx="2.70" fill="#080808" filter="url(#b1)"/>
<rect x="386.75" y="195.70" width="14.50" height="5.20" rx="2.60" fill="#080808" filter="url(#b1)"/>
<rect x="406.65" y="195.70" width="14.50" height="5.20" rx="2.60" fill="#080808" filter="url(#b1)"/>
<rect x="428.50" y="197.30" width="13.00" height="3.00" rx="1.50" fill="#cacaca" filter="url(#b1)"/>
<rect x="447.25" y="197.10" width="13.00" height="3.40" rx="1.70" fill="#979797" filter="url(#b1)"/>
<rect x="466.25" y="197.30" width="12.50" height="3.00" rx="1.50" fill="#c4c4c4" filter="url(#b1)"/>
<rect x="487.25" y="197.30" width="13.00" height="3.00" rx="1.50" fill="#bcbcbc" filter="url(#b1)"/>
<rect x="345.40" y="207.20" width="161.40" height="14.10" fill="#f1f2f3" stroke="#b4c8e0" stroke-width="1"/>
<rect x="345.90" y="207.70" width="160.40" height="1.4" fill="#dbe5f1"/>
<text x="338.40" y="219.15" font-size="7.9" text-anchor="end" font-weight="normal" font-style="normal" fill="#333" textLength="17.4" lengthAdjust="spacingAndGlyphs" style="stroke:#333;stroke-width:0.18px">TFR2</text>
<rect x="347.25" y="212.05" width="12.50" height="3.80" rx="1.90" fill="#111" filter="url(#b1)"/>
<rect x="367.55" y="212.55" width="12.50" height="2.20" rx="1.10" fill="#8a8a8a" filter="url(#b1)"/>
<rect x="388.00" y="210.85" width="12.00" height="2.80" rx="1.40" fill="#3a3a3a" filter="url(#b1)"/>
<rect x="407.90" y="210.95" width="12.00" height="2.60" rx="1.30" fill="#444" filter="url(#b1)"/>
<rect x="428.50" y="211.45" width="13.00" height="3.60" rx="1.80" fill="#111" filter="url(#b1)"/>
<rect x="447.50" y="212.15" width="12.50" height="2.60" rx="1.30" fill="#555" filter="url(#b1)"/>
<rect x="466.50" y="212.15" width="12.00" height="2.60" rx="1.30" fill="#555" filter="url(#b1)"/>
<rect x="487.75" y="212.05" width="12.00" height="2.80" rx="1.40" fill="#444" filter="url(#b1)"/>
<rect x="345.40" y="224.00" width="161.40" height="13.10" fill="#f1f2f3" stroke="#b4c8e0" stroke-width="1"/>
<rect x="345.90" y="224.50" width="160.40" height="1.4" fill="#dbe5f1"/>
<text x="338.40" y="234.95" font-size="7.9" text-anchor="end" font-weight="normal" font-style="normal" fill="#333" textLength="18.2" lengthAdjust="spacingAndGlyphs" style="stroke:#333;stroke-width:0.18px">Actin</text>
<rect x="347.25" y="229.65" width="12.50" height="3.80" rx="1.90" fill="#1a1a1a" filter="url(#b1)"/>
<rect x="367.05" y="229.65" width="13.50" height="3.80" rx="1.90" fill="#1a1a1a" filter="url(#b1)"/>
<rect x="388.00" y="229.35" width="12.00" height="3.60" rx="1.80" fill="#1a1a1a" filter="url(#b1)"/>
<rect x="407.40" y="229.25" width="13.00" height="3.80" rx="1.90" fill="#1a1a1a" filter="url(#b1)"/>
<rect x="428.50" y="229.25" width="13.00" height="3.80" rx="1.90" fill="#1a1a1a" filter="url(#b1)"/>
<rect x="447.50" y="229.75" width="12.50" height="3.60" rx="1.80" fill="#1a1a1a" filter="url(#b1)"/>
<rect x="466.25" y="229.65" width="12.50" height="3.80" rx="1.90" fill="#1a1a1a" filter="url(#b1)"/>
<rect x="487.00" y="229.55" width="13.50" height="4.00" rx="2.00" fill="#111" filter="url(#b1)"/>
</svg>
</body></html>
